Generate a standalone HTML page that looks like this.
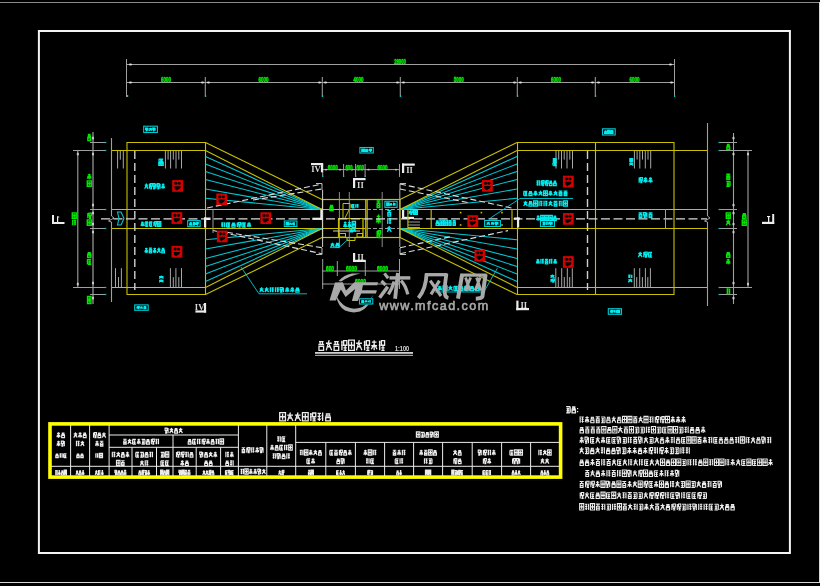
<!DOCTYPE html>
<html><head><meta charset="utf-8"><style>
html,body{margin:0;padding:0;background:#000;overflow:hidden}
svg{display:block}
</style></head><body>
<svg width="820" height="586" viewBox="0 0 820 586" style="will-change:transform">
<rect width="820" height="586" fill="#000"/>
<line x1="0" y1="2.5" x2="820" y2="2.5" stroke="#8a8a8a" stroke-width="1.2"/>
<line x1="819.5" y1="2" x2="819.5" y2="583" stroke="#d8d8d8" stroke-width="1"/>
<line x1="0" y1="582.5" x2="820" y2="582.5" stroke="#d8d8d8" stroke-width="1"/>
<rect x="38.9" y="31" width="751" height="522" stroke="#f4f4f4" stroke-width="2" fill="none"/>
<line x1="127" y1="64.5" x2="674" y2="64.5" stroke="#a0a0a0" stroke-width="1.05"/>
<line x1="127" y1="82.5" x2="674" y2="82.5" stroke="#a0a0a0" stroke-width="1.05"/>
<line x1="126.5" y1="59" x2="126.5" y2="97" stroke="#a0a0a0" stroke-width="1.05"/>
<line x1="674.5" y1="59" x2="674.5" y2="97" stroke="#a0a0a0" stroke-width="1.05"/>
<line x1="205.3" y1="77" x2="205.3" y2="97" stroke="#a0a0a0" stroke-width="1.05"/>
<line x1="322.3" y1="77" x2="322.3" y2="97" stroke="#a0a0a0" stroke-width="1.05"/>
<line x1="400.3" y1="77" x2="400.3" y2="97" stroke="#a0a0a0" stroke-width="1.05"/>
<line x1="517.3" y1="77" x2="517.3" y2="97" stroke="#a0a0a0" stroke-width="1.05"/>
<line x1="595.3" y1="77" x2="595.3" y2="97" stroke="#a0a0a0" stroke-width="1.05"/>
<ellipse cx="130.5" cy="82.5" rx="1.6" ry="1.1" fill="#dddddd"/>
<rect x="127" y="95" width="1.2" height="2" fill="#00c8d2"/>
<ellipse cx="202.5" cy="82.5" rx="1.6" ry="1.1" fill="#dddddd"/>
<ellipse cx="208.5" cy="82.5" rx="1.6" ry="1.1" fill="#dddddd"/>
<rect x="205" y="95" width="1.2" height="2" fill="#00c8d2"/>
<ellipse cx="319.5" cy="82.5" rx="1.6" ry="1.1" fill="#dddddd"/>
<ellipse cx="325.5" cy="82.5" rx="1.6" ry="1.1" fill="#dddddd"/>
<rect x="322" y="95" width="1.2" height="2" fill="#00c8d2"/>
<ellipse cx="397.5" cy="82.5" rx="1.6" ry="1.1" fill="#dddddd"/>
<ellipse cx="403.5" cy="82.5" rx="1.6" ry="1.1" fill="#dddddd"/>
<rect x="400" y="95" width="1.2" height="2" fill="#00c8d2"/>
<ellipse cx="514.5" cy="82.5" rx="1.6" ry="1.1" fill="#dddddd"/>
<ellipse cx="520.5" cy="82.5" rx="1.6" ry="1.1" fill="#dddddd"/>
<rect x="517" y="95" width="1.2" height="2" fill="#00c8d2"/>
<ellipse cx="592.5" cy="82.5" rx="1.6" ry="1.1" fill="#dddddd"/>
<ellipse cx="598.5" cy="82.5" rx="1.6" ry="1.1" fill="#dddddd"/>
<rect x="595" y="95" width="1.2" height="2" fill="#00c8d2"/>
<ellipse cx="671.5" cy="82.5" rx="1.6" ry="1.1" fill="#dddddd"/>
<rect x="674" y="95" width="1.2" height="2" fill="#00c8d2"/>
<ellipse cx="130.5" cy="64.5" rx="1.6" ry="1.1" fill="#dddddd"/>
<ellipse cx="670.5" cy="64.5" rx="1.6" ry="1.1" fill="#dddddd"/>
<text x="394.2" y="63.6" font-family="Liberation Sans" font-weight="bold" font-size="6.7" fill="#00e600" stroke="#00e600" stroke-width="0.55" textLength="11.6" lengthAdjust="spacingAndGlyphs">28000</text>
<text x="161" y="81.8" font-family="Liberation Sans" font-weight="bold" font-size="7.4" fill="#00e600" stroke="#00e600" stroke-width="0.55" textLength="10" lengthAdjust="spacingAndGlyphs">6000</text>
<text x="258.5" y="81.8" font-family="Liberation Sans" font-weight="bold" font-size="7.4" fill="#00e600" stroke="#00e600" stroke-width="0.55" textLength="10" lengthAdjust="spacingAndGlyphs">6000</text>
<text x="353.6" y="81.8" font-family="Liberation Sans" font-weight="bold" font-size="7.4" fill="#00e600" stroke="#00e600" stroke-width="0.55" textLength="10" lengthAdjust="spacingAndGlyphs">4000</text>
<text x="453.7" y="81.8" font-family="Liberation Sans" font-weight="bold" font-size="7.4" fill="#00e600" stroke="#00e600" stroke-width="0.55" textLength="10" lengthAdjust="spacingAndGlyphs">5000</text>
<text x="551" y="81.8" font-family="Liberation Sans" font-weight="bold" font-size="7.4" fill="#00e600" stroke="#00e600" stroke-width="0.55" textLength="10" lengthAdjust="spacingAndGlyphs">6000</text>
<text x="629.5" y="81.8" font-family="Liberation Sans" font-weight="bold" font-size="7.4" fill="#00e600" stroke="#00e600" stroke-width="0.55" textLength="10" lengthAdjust="spacingAndGlyphs">6000</text>
<line x1="127" y1="142.5" x2="205" y2="142.5" stroke="#c8c000" stroke-width="1.1"/>
<line x1="111" y1="150.5" x2="205" y2="150.5" stroke="#c8c000" stroke-width="1.1"/>
<line x1="111" y1="209.5" x2="322" y2="209.5" stroke="#c8c000" stroke-width="1.1"/>
<line x1="111" y1="228.5" x2="322" y2="228.5" stroke="#c8c000" stroke-width="1.1"/>
<line x1="111" y1="287.5" x2="205" y2="287.5" stroke="#c8c000" stroke-width="1.1"/>
<line x1="127" y1="294.5" x2="205" y2="294.5" stroke="#c8c000" stroke-width="1.1"/>
<line x1="127" y1="142" x2="127" y2="295" stroke="#c8c000" stroke-width="1.1"/>
<line x1="205.5" y1="142" x2="205.5" y2="295" stroke="#c8c000" stroke-width="1.1"/>
<line x1="111.5" y1="138" x2="111.5" y2="216" stroke="#a0a0a0" stroke-width="1.1"/>
<line x1="111.5" y1="222" x2="111.5" y2="302" stroke="#a0a0a0" stroke-width="1.1"/>
<polyline points="111.5,216 114,218 108.5,221 111.5,222" stroke="#a0a0a0" stroke-width="1" fill="none" stroke-linejoin="miter"/>
<line x1="134.8" y1="151" x2="134.8" y2="290" stroke="#cfcfcf" stroke-width="1.4" stroke-dasharray="8 4"/>
<line x1="517" y1="142.5" x2="674" y2="142.5" stroke="#c8c000" stroke-width="1.1"/>
<line x1="517" y1="150.5" x2="707.5" y2="150.5" stroke="#c8c000" stroke-width="1.1"/>
<line x1="400" y1="209.5" x2="707.5" y2="209.5" stroke="#c8c000" stroke-width="1.1"/>
<line x1="400" y1="228.5" x2="707.5" y2="228.5" stroke="#c8c000" stroke-width="1.1"/>
<line x1="517" y1="287.5" x2="707.5" y2="287.5" stroke="#c8c000" stroke-width="1.1"/>
<line x1="517" y1="294.5" x2="674" y2="294.5" stroke="#c8c000" stroke-width="1.1"/>
<line x1="517.5" y1="142" x2="517.5" y2="295" stroke="#c8c000" stroke-width="1.1"/>
<line x1="595.5" y1="142" x2="595.5" y2="295" stroke="#c8c000" stroke-width="1.1"/>
<line x1="674" y1="142" x2="674" y2="295" stroke="#c8c000" stroke-width="1.1"/>
<line x1="707.5" y1="123" x2="707.5" y2="216" stroke="#a0a0a0" stroke-width="1.1"/>
<line x1="707.5" y1="222" x2="707.5" y2="306" stroke="#a0a0a0" stroke-width="1.1"/>
<polyline points="707.5,216 710,218 704.5,221 707.5,222" stroke="#a0a0a0" stroke-width="1" fill="none" stroke-linejoin="miter"/>
<line x1="587.5" y1="151" x2="587.5" y2="290" stroke="#cfcfcf" stroke-width="1.4" stroke-dasharray="8 4"/>
<line x1="117.6" y1="151" x2="117.6" y2="168.5" stroke="#a8a8a8" stroke-width="1"/>
<line x1="120.3" y1="151" x2="120.3" y2="159.6" stroke="#a8a8a8" stroke-width="1"/>
<line x1="123.3" y1="151" x2="123.3" y2="168.5" stroke="#a8a8a8" stroke-width="1"/>
<line x1="165.4" y1="151" x2="165.4" y2="168.5" stroke="#a8a8a8" stroke-width="1"/>
<line x1="168.1" y1="151" x2="168.1" y2="159.6" stroke="#a8a8a8" stroke-width="1"/>
<line x1="170.6" y1="151" x2="170.6" y2="168.5" stroke="#a8a8a8" stroke-width="1"/>
<line x1="173.3" y1="151" x2="173.3" y2="159.6" stroke="#a8a8a8" stroke-width="1"/>
<line x1="176" y1="151" x2="176" y2="168.5" stroke="#a8a8a8" stroke-width="1"/>
<line x1="178.8" y1="151" x2="178.8" y2="159.6" stroke="#a8a8a8" stroke-width="1"/>
<line x1="181.5" y1="151" x2="181.5" y2="168.5" stroke="#a8a8a8" stroke-width="1"/>
<line x1="556" y1="151" x2="556" y2="168.5" stroke="#a8a8a8" stroke-width="1"/>
<line x1="558.7" y1="151" x2="558.7" y2="159.6" stroke="#a8a8a8" stroke-width="1"/>
<line x1="561.5" y1="151" x2="561.5" y2="168.5" stroke="#a8a8a8" stroke-width="1"/>
<line x1="564.2" y1="151" x2="564.2" y2="159.6" stroke="#a8a8a8" stroke-width="1"/>
<line x1="567" y1="151" x2="567" y2="168.5" stroke="#a8a8a8" stroke-width="1"/>
<line x1="569.8" y1="151" x2="569.8" y2="159.6" stroke="#a8a8a8" stroke-width="1"/>
<line x1="572.5" y1="151" x2="572.5" y2="168.5" stroke="#a8a8a8" stroke-width="1"/>
<line x1="634.4" y1="151" x2="634.4" y2="168.5" stroke="#a8a8a8" stroke-width="1"/>
<line x1="637.1" y1="151" x2="637.1" y2="159.6" stroke="#a8a8a8" stroke-width="1"/>
<line x1="639.8" y1="151" x2="639.8" y2="168.5" stroke="#a8a8a8" stroke-width="1"/>
<line x1="642.5" y1="151" x2="642.5" y2="159.6" stroke="#a8a8a8" stroke-width="1"/>
<line x1="645.3" y1="151" x2="645.3" y2="168.5" stroke="#a8a8a8" stroke-width="1"/>
<line x1="648" y1="151" x2="648" y2="159.6" stroke="#a8a8a8" stroke-width="1"/>
<line x1="650.7" y1="151" x2="650.7" y2="168.5" stroke="#a8a8a8" stroke-width="1"/>
<line x1="115.5" y1="287" x2="115.5" y2="268.2" stroke="#a8a8a8" stroke-width="1"/>
<line x1="118.5" y1="287" x2="118.5" y2="277.1" stroke="#a8a8a8" stroke-width="1"/>
<line x1="121.4" y1="287" x2="121.4" y2="268.2" stroke="#a8a8a8" stroke-width="1"/>
<line x1="170.4" y1="287" x2="170.4" y2="268.2" stroke="#a8a8a8" stroke-width="1"/>
<line x1="173.3" y1="287" x2="173.3" y2="277.1" stroke="#a8a8a8" stroke-width="1"/>
<line x1="175.9" y1="287" x2="175.9" y2="268.2" stroke="#a8a8a8" stroke-width="1"/>
<line x1="178.8" y1="287" x2="178.8" y2="277.1" stroke="#a8a8a8" stroke-width="1"/>
<line x1="181.5" y1="287" x2="181.5" y2="268.2" stroke="#a8a8a8" stroke-width="1"/>
<line x1="555.8" y1="287" x2="555.8" y2="268.2" stroke="#a8a8a8" stroke-width="1"/>
<line x1="558.3" y1="287" x2="558.3" y2="277.1" stroke="#a8a8a8" stroke-width="1"/>
<line x1="561.7" y1="287" x2="561.7" y2="268.2" stroke="#a8a8a8" stroke-width="1"/>
<line x1="564.3" y1="287" x2="564.3" y2="277.1" stroke="#a8a8a8" stroke-width="1"/>
<line x1="567.3" y1="287" x2="567.3" y2="268.2" stroke="#a8a8a8" stroke-width="1"/>
<line x1="569.7" y1="287" x2="569.7" y2="277.1" stroke="#a8a8a8" stroke-width="1"/>
<line x1="572.3" y1="287" x2="572.3" y2="268.2" stroke="#a8a8a8" stroke-width="1"/>
<line x1="634.3" y1="287" x2="634.3" y2="268.2" stroke="#a8a8a8" stroke-width="1"/>
<line x1="636.7" y1="287" x2="636.7" y2="277.1" stroke="#a8a8a8" stroke-width="1"/>
<line x1="639.7" y1="287" x2="639.7" y2="268.2" stroke="#a8a8a8" stroke-width="1"/>
<line x1="642.4" y1="287" x2="642.4" y2="277.1" stroke="#a8a8a8" stroke-width="1"/>
<line x1="645.4" y1="287" x2="645.4" y2="268.2" stroke="#a8a8a8" stroke-width="1"/>
<line x1="647.8" y1="287" x2="647.8" y2="277.1" stroke="#a8a8a8" stroke-width="1"/>
<line x1="650.4" y1="287" x2="650.4" y2="268.2" stroke="#a8a8a8" stroke-width="1"/>
<line x1="205.5" y1="156.5" x2="322" y2="209.5" stroke="#00c8d2" stroke-width="1.1"/>
<line x1="205.5" y1="281.5" x2="322" y2="228.5" stroke="#00c8d2" stroke-width="1.1"/>
<line x1="517" y1="156.5" x2="400" y2="209.5" stroke="#00c8d2" stroke-width="1.1"/>
<line x1="517" y1="281.5" x2="400" y2="228.5" stroke="#00c8d2" stroke-width="1.1"/>
<line x1="205.5" y1="164" x2="322" y2="209.5" stroke="#00c8d2" stroke-width="1.1"/>
<line x1="205.5" y1="274" x2="322" y2="228.5" stroke="#00c8d2" stroke-width="1.1"/>
<line x1="517" y1="164" x2="400" y2="209.5" stroke="#00c8d2" stroke-width="1.1"/>
<line x1="517" y1="274" x2="400" y2="228.5" stroke="#00c8d2" stroke-width="1.1"/>
<line x1="205.5" y1="171.5" x2="322" y2="209.5" stroke="#00c8d2" stroke-width="1.1"/>
<line x1="205.5" y1="266.5" x2="322" y2="228.5" stroke="#00c8d2" stroke-width="1.1"/>
<line x1="517" y1="171.5" x2="400" y2="209.5" stroke="#00c8d2" stroke-width="1.1"/>
<line x1="517" y1="266.5" x2="400" y2="228.5" stroke="#00c8d2" stroke-width="1.1"/>
<line x1="205.5" y1="179.5" x2="322" y2="209.5" stroke="#00c8d2" stroke-width="1.1"/>
<line x1="205.5" y1="258.5" x2="322" y2="228.5" stroke="#00c8d2" stroke-width="1.1"/>
<line x1="517" y1="179.5" x2="400" y2="209.5" stroke="#00c8d2" stroke-width="1.1"/>
<line x1="517" y1="258.5" x2="400" y2="228.5" stroke="#00c8d2" stroke-width="1.1"/>
<line x1="205.5" y1="189" x2="322" y2="209.5" stroke="#00c8d2" stroke-width="1.1"/>
<line x1="205.5" y1="249" x2="322" y2="228.5" stroke="#00c8d2" stroke-width="1.1"/>
<line x1="517" y1="189" x2="400" y2="209.5" stroke="#00c8d2" stroke-width="1.1"/>
<line x1="517" y1="249" x2="400" y2="228.5" stroke="#00c8d2" stroke-width="1.1"/>
<line x1="205.5" y1="198.3" x2="322" y2="209.5" stroke="#00c8d2" stroke-width="1.1"/>
<line x1="205.5" y1="239.7" x2="322" y2="228.5" stroke="#00c8d2" stroke-width="1.1"/>
<line x1="517" y1="198.3" x2="400" y2="209.5" stroke="#00c8d2" stroke-width="1.1"/>
<line x1="517" y1="239.7" x2="400" y2="228.5" stroke="#00c8d2" stroke-width="1.1"/>
<line x1="205.5" y1="142.5" x2="322" y2="199.5" stroke="#c8c000" stroke-width="1.1"/>
<line x1="205.5" y1="150.5" x2="322" y2="209.5" stroke="#c8c000" stroke-width="1.1"/>
<line x1="205.5" y1="294.5" x2="322" y2="237.5" stroke="#c8c000" stroke-width="1.1"/>
<line x1="205.5" y1="287.5" x2="322" y2="228.5" stroke="#c8c000" stroke-width="1.1"/>
<line x1="517" y1="142.5" x2="400" y2="199.5" stroke="#c8c000" stroke-width="1.1"/>
<line x1="517" y1="150.5" x2="400" y2="209.5" stroke="#c8c000" stroke-width="1.1"/>
<line x1="517" y1="294.5" x2="400" y2="237.5" stroke="#c8c000" stroke-width="1.1"/>
<line x1="517" y1="287.5" x2="400" y2="228.5" stroke="#c8c000" stroke-width="1.1"/>
<line x1="207" y1="208" x2="322" y2="184" stroke="#dcdcdc" stroke-width="1.1" stroke-dasharray="6 3"/>
<line x1="253" y1="200" x2="322" y2="189" stroke="#dcdcdc" stroke-width="1.1" stroke-dasharray="6 3"/>
<line x1="213" y1="230.5" x2="322" y2="253.7" stroke="#dcdcdc" stroke-width="1.1" stroke-dasharray="6 3"/>
<line x1="227" y1="232.3" x2="322" y2="247.7" stroke="#dcdcdc" stroke-width="1.1" stroke-dasharray="6 3"/>
<line x1="400" y1="184" x2="514" y2="208.5" stroke="#dcdcdc" stroke-width="1.1" stroke-dasharray="6 3"/>
<line x1="400" y1="189" x2="470" y2="203" stroke="#dcdcdc" stroke-width="1.1" stroke-dasharray="6 3"/>
<line x1="400" y1="253.7" x2="508" y2="230.6" stroke="#dcdcdc" stroke-width="1.1" stroke-dasharray="6 3"/>
<line x1="400" y1="247.7" x2="451" y2="236.6" stroke="#dcdcdc" stroke-width="1.1" stroke-dasharray="6 3"/>
<polyline points="316,183.5 322,183.5 322,190" stroke="#bbbbbb" stroke-width="1" fill="none" stroke-linejoin="miter"/>
<polyline points="316,254.5 322,254.5 322,248" stroke="#bbbbbb" stroke-width="1" fill="none" stroke-linejoin="miter"/>
<polyline points="406,183.5 400,183.5 400,190" stroke="#bbbbbb" stroke-width="1" fill="none" stroke-linejoin="miter"/>
<polyline points="406,254.5 400,254.5 400,248" stroke="#bbbbbb" stroke-width="1" fill="none" stroke-linejoin="miter"/>
<rect x="322.5" y="199.5" width="77.5" height="38" stroke="#c8c000" stroke-width="1.2" fill="none"/>
<line x1="365.8" y1="199.5" x2="365.8" y2="237.5" stroke="#c8c000" stroke-width="1.3"/>
<line x1="367.2" y1="199.5" x2="367.2" y2="237.5" stroke="#c8c000" stroke-width="1.1"/>
<line x1="322" y1="209.5" x2="366" y2="209.5" stroke="#c8c000" stroke-width="1.1"/>
<line x1="322" y1="228.5" x2="366" y2="228.5" stroke="#c8c000" stroke-width="1.1"/>
<line x1="367" y1="209.5" x2="400" y2="209.5" stroke="#9a9a9a" stroke-width="1" stroke-dasharray="4 2"/>
<line x1="367" y1="228.5" x2="400" y2="228.5" stroke="#9a9a9a" stroke-width="1" stroke-dasharray="4 2"/>
<polyline points="338.5,237 338.5,218.5 363,218.5 363,237" stroke="#c8c000" stroke-width="1.2" fill="none" stroke-linejoin="miter"/>
<rect x="339.5" y="233.5" width="6" height="3.5" stroke="#c8c000" stroke-width="1" fill="none"/>
<rect x="357" y="233.5" width="5.5" height="3.5" stroke="#c8c000" stroke-width="1" fill="none"/>
<polyline points="347,237.5 347,240.5 355,240.5 355,237.5" stroke="#c8c000" stroke-width="1" fill="none" stroke-linejoin="miter"/>
<polyline points="343,218 343,203.5 350,203.5 350,208.5" stroke="#c8c000" stroke-width="1" fill="none" stroke-linejoin="miter"/>
<line x1="349" y1="210" x2="345" y2="218" stroke="#c8c000" stroke-width="1"/>
<line x1="333" y1="231" x2="360" y2="231" stroke="#cccccc" stroke-width="1"/>
<line x1="339.4" y1="192" x2="339.4" y2="247" stroke="#9a9a9a" stroke-width="0.9"/>
<line x1="349.3" y1="192" x2="349.3" y2="247" stroke="#9a9a9a" stroke-width="0.9"/>
<line x1="382.2" y1="192" x2="382.2" y2="247" stroke="#9a9a9a" stroke-width="0.9"/>
<line x1="322.6" y1="190" x2="322.6" y2="247" stroke="#d0d0d0" stroke-width="1"/>
<line x1="399.8" y1="190" x2="399.8" y2="247" stroke="#b0b0b0" stroke-width="1"/>
<path d="M329.98 205.34H333.02M329.6 207.01H333.4M330.74 205.34V207.01M332.26 205.34V207.01M329.98 208.12H333.02V210.58H329.98Z" stroke="#00e600" stroke-width="1.43" fill="none"/>
<path d="M376.6 201.04H380.4M378.5 200.48V203.3M377.17 203.3H379.83V207.52H377.17ZM377.17 205.41H379.83" stroke="#00e600" stroke-width="1.43" fill="none"/>
<path d="M376.68 216.36H380.32M378.5 214.6V223.4M378.27 218.56L376.22 222.52M378.73 218.56L380.78 222.52M376.22 219.44H380.78" stroke="#00e600" stroke-width="1.43" fill="none"/>
<path d="M376.6 231.89H377.74M376.6 234H377.74M377.17 230.83V237.52M378.31 230.83H380.4V234H378.31ZM378.2 235.76H380.4M378.2 237.52H380.4M379.34 234V237.52" stroke="#00e600" stroke-width="1.43" fill="none"/>
<path d="M351.48 204.59H354.52M351.63 204.59V207.76M352.39 205.65H354.22M352.39 206.7H354.22M353.3 205.12V207.76M351.78 207.76H354.52M355.84 204.24V207.76M355.48 205.47H356.39M355.48 206.7H356.39M356.7 204.59H358.52M357.61 204.59V207.76M356.85 205.82H358.52M356.85 207.06H358.52" stroke="#00ecf0" stroke-width="1.3" fill="none"/>
<path d="M346.48 222.65H343.85M345.17 221.42V227.58M345.33 224.19L346.81 226.96M345 224.19L343.52 226.96M346.81 224.81H343.52M350.82 222.65H348.18M349.5 221.42V227.58M349.66 224.19L351.15 226.96M349.34 224.19L347.85 226.96M351.15 224.81H347.85M352.19 221.42H355.48V227.58H352.19ZM352.19 224.5H355.48M353.83 222.34V226.66" stroke="#00ecf0" stroke-width="1.3" fill="none"/>
<path d="M350.59 228.77H352.41M350.36 229.72H352.64M351.04 228.77V229.72M351.96 228.77V229.72M350.59 230.35H352.41V231.76H350.59ZM353.36 229.3H355.64M354.61 228.24L353.47 231.76M354.5 229.47L355.64 231.76M353.82 230.53H355.18" stroke="#00ecf0" stroke-width="1.3" fill="none"/>
<path d="M387.27 210.45H391.23M389.25 209.96V212.39M387.86 212.39H390.64V216.04H387.86ZM387.86 214.22H390.64M387.75 217.96V224.04M387.27 220.09H388.46M387.27 222.22H388.46M388.85 218.57H391.23M390.04 218.57V224.04M389.05 220.7H391.23M389.05 222.82H391.23M387.27 227.78H391.23M389.45 225.96L387.47 232.04M389.25 228.09L391.23 232.04M388.06 229.91H390.44" stroke="#00ecf0" stroke-width="1.3" fill="none"/>
<rect x="384.9" y="201.3" width="12.2" height="6.1" stroke="#00c8d2" stroke-width="1.1" fill="none"/>
<path d="M389.1 202.99H386.77V205.71H389.1ZM389.1 204.35H386.77M387.93 203.4V205.3M390.07 203.53H391.93M391 202.99V205.71M390.88 204.21L389.83 205.44M391.12 204.21L392.17 205.44M389.83 204.49H392.17M394.95 202.99V205.71M395.23 203.94H394.53M395.23 204.9H394.53M394.3 203.26H392.9M393.6 203.26V205.71M394.18 204.21H392.9M394.18 205.17H392.9" stroke="#00ecf0" stroke-width="1.3" fill="none"/>
<polyline points="330,247.6 339,247.6 348.4,239" stroke="#00c8d2" stroke-width="0.9" fill="none" stroke-linejoin="miter"/>
<path d="M330.6 244.12H334.4M332.69 242.8L330.79 247.2M332.5 244.34L334.4 247.2M331.36 245.66H333.64M335.98 243.46H339.02M335.6 244.65H339.4M336.74 243.46V244.65M338.26 243.46V244.65M335.98 245.44H339.02V247.2H335.98Z" stroke="#00ecf0" stroke-width="1.3" fill="none"/>
<line x1="101" y1="218.8" x2="707" y2="218.8" stroke="#d8d8d8" stroke-width="1.2" stroke-dasharray="9 3.5"/>
<line x1="322" y1="169.6" x2="400" y2="169.6" stroke="#a0a0a0" stroke-width="1"/>
<line x1="322.7" y1="164" x2="322.7" y2="177" stroke="#a0a0a0" stroke-width="1"/>
<rect x="322.2" y="175.5" width="1.1" height="1.5" fill="#00c8d2"/>
<line x1="343.6" y1="164" x2="343.6" y2="177" stroke="#a0a0a0" stroke-width="1"/>
<rect x="343.1" y="175.5" width="1.1" height="1.5" fill="#00c8d2"/>
<line x1="355.6" y1="164" x2="355.6" y2="177" stroke="#a0a0a0" stroke-width="1"/>
<rect x="355.1" y="175.5" width="1.1" height="1.5" fill="#00c8d2"/>
<line x1="365.1" y1="164" x2="365.1" y2="177" stroke="#a0a0a0" stroke-width="1"/>
<rect x="364.6" y="175.5" width="1.1" height="1.5" fill="#00c8d2"/>
<line x1="399.5" y1="164" x2="399.5" y2="177" stroke="#a0a0a0" stroke-width="1"/>
<rect x="399" y="175.5" width="1.1" height="1.5" fill="#00c8d2"/>
<ellipse cx="326" cy="169.6" rx="1.3" ry="0.9" fill="#bbbbbb"/>
<ellipse cx="340" cy="169.6" rx="1.3" ry="0.9" fill="#bbbbbb"/>
<ellipse cx="347" cy="169.6" rx="1.3" ry="0.9" fill="#bbbbbb"/>
<ellipse cx="352" cy="169.6" rx="1.3" ry="0.9" fill="#bbbbbb"/>
<ellipse cx="358.5" cy="169.6" rx="1.3" ry="0.9" fill="#bbbbbb"/>
<ellipse cx="362" cy="169.6" rx="1.3" ry="0.9" fill="#bbbbbb"/>
<ellipse cx="368.5" cy="169.6" rx="1.3" ry="0.9" fill="#bbbbbb"/>
<ellipse cx="396" cy="169.6" rx="1.3" ry="0.9" fill="#bbbbbb"/>
<text x="327.8" y="169.5" font-family="Liberation Sans" font-weight="bold" font-size="6.98" fill="#00e600" stroke="#00e600" stroke-width="0.55" textLength="10" lengthAdjust="spacingAndGlyphs">6000</text>
<text x="345.5" y="169.5" font-family="Liberation Sans" font-weight="bold" font-size="6.98" fill="#00e600" stroke="#00e600" stroke-width="0.55" textLength="7" lengthAdjust="spacingAndGlyphs">600</text>
<text x="356.5" y="169.5" font-family="Liberation Sans" font-weight="bold" font-size="6.98" fill="#00e600" stroke="#00e600" stroke-width="0.55" textLength="7.5" lengthAdjust="spacingAndGlyphs">600</text>
<text x="377.5" y="169.5" font-family="Liberation Sans" font-weight="bold" font-size="6.98" fill="#00e600" stroke="#00e600" stroke-width="0.55" textLength="10" lengthAdjust="spacingAndGlyphs">6000</text>
<line x1="322" y1="271" x2="400" y2="271" stroke="#a0a0a0" stroke-width="1"/>
<line x1="337.3" y1="261" x2="337.3" y2="276" stroke="#a0a0a0" stroke-width="1"/>
<line x1="365.3" y1="261" x2="365.3" y2="276" stroke="#a0a0a0" stroke-width="1"/>
<line x1="322.7" y1="259" x2="322.7" y2="289" stroke="#a0a0a0" stroke-width="1"/>
<line x1="399.5" y1="259" x2="399.5" y2="289" stroke="#a0a0a0" stroke-width="1"/>
<text x="326" y="271" font-family="Liberation Sans" font-weight="bold" font-size="6.98" fill="#00e600" stroke="#00e600" stroke-width="0.55" textLength="8" lengthAdjust="spacingAndGlyphs">600</text>
<text x="346" y="271" font-family="Liberation Sans" font-weight="bold" font-size="6.98" fill="#00e600" stroke="#00e600" stroke-width="0.55" textLength="11" lengthAdjust="spacingAndGlyphs">6000</text>
<text x="377" y="271" font-family="Liberation Sans" font-weight="bold" font-size="6.98" fill="#00e600" stroke="#00e600" stroke-width="0.55" textLength="11" lengthAdjust="spacingAndGlyphs">6000</text>
<line x1="322" y1="284" x2="400" y2="284" stroke="#a0a0a0" stroke-width="1"/>
<text x="355" y="284" font-family="Liberation Sans" font-weight="bold" font-size="6.98" fill="#00e600" stroke="#00e600" stroke-width="0.55" textLength="11" lengthAdjust="spacingAndGlyphs">6000</text>
<rect x="311" y="163" width="12.1" height="2.2" fill="#ececec"/>
<rect x="320.9" y="163" width="2.2" height="9.3" fill="#ececec"/>
<text x="315.95" y="172.3" font-family="Liberation Serif" font-weight="bold" font-size="8.6" text-anchor="middle" fill="#d8d8d8">IV</text>
<rect x="402" y="163.5" width="12.8" height="2.2" fill="#ececec"/>
<rect x="402" y="163.5" width="2.2" height="9.5" fill="#ececec"/>
<text x="409.5" y="173" font-family="Liberation Serif" font-weight="bold" font-size="8.6" text-anchor="middle" fill="#d8d8d8">II</text>
<rect x="353" y="178" width="12.6" height="2.2" fill="#ececec"/>
<rect x="353" y="178" width="2.2" height="10" fill="#ececec"/>
<text x="360.4" y="188" font-family="Liberation Serif" font-weight="bold" font-size="8.6" text-anchor="middle" fill="#d8d8d8">II</text>
<rect x="353" y="259.8" width="12.8" height="2.2" fill="#ececec"/>
<rect x="353" y="253" width="2.2" height="9" fill="#ececec"/>
<text x="360.5" y="259.5" font-family="Liberation Serif" font-weight="bold" font-size="8.6" text-anchor="middle" fill="#d8d8d8">II</text>
<rect x="195.4" y="310.4" width="10.7" height="2.2" fill="#ececec"/>
<rect x="203.9" y="303" width="2.2" height="9.6" fill="#ececec"/>
<text x="199.65" y="310.1" font-family="Liberation Serif" font-weight="bold" font-size="8.6" text-anchor="middle" fill="#d8d8d8">IV</text>
<rect x="516.3" y="308" width="12.7" height="2.2" fill="#ececec"/>
<rect x="516.3" y="300.6" width="2.2" height="9.6" fill="#ececec"/>
<text x="523.75" y="307.7" font-family="Liberation Serif" font-weight="bold" font-size="8.6" text-anchor="middle" fill="#d8d8d8">II</text>
<rect x="52" y="215" width="2" height="9" fill="#ececec"/>
<rect x="52" y="222" width="12.5" height="2" fill="#ececec"/>
<rect x="57" y="216.5" width="1.2" height="6" fill="#ececec"/>
<rect x="57" y="216.5" width="2.2" height="1" fill="#ececec"/>
<rect x="772.2" y="214" width="2" height="10" fill="#ececec"/>
<rect x="762" y="221.8" width="12.2" height="2.2" fill="#ececec"/>
<rect x="768" y="216.5" width="1.3" height="6" fill="#ececec"/>
<rect x="767" y="216" width="3.2" height="1.1" fill="#ececec"/>
<rect x="204" y="217.5" width="6.5" height="2.5" fill="#ececec"/>
<rect x="204" y="217.5" width="2.2" height="10" fill="#ececec"/>
<rect x="402" y="210" width="2.2" height="9" fill="#ececec"/>
<rect x="402" y="216.8" width="12" height="2.2" fill="#ececec"/>
<rect x="514" y="217.5" width="6" height="2.2" fill="#ececec"/>
<rect x="517" y="217.5" width="2.2" height="10" fill="#ececec"/>
<rect x="312.3" y="217.7" width="10" height="2.2" fill="#ececec"/>
<rect x="320.3" y="209.5" width="2" height="10.4" fill="#ececec"/>
<line x1="77.8" y1="150" x2="77.8" y2="288" stroke="#a0a0a0" stroke-width="1.1"/>
<line x1="93" y1="132" x2="93" y2="304" stroke="#a0a0a0" stroke-width="1.2"/>
<line x1="90" y1="142.5" x2="106" y2="142.5" stroke="#a0a0a0" stroke-width="1"/>
<line x1="73" y1="150.5" x2="106" y2="150.5" stroke="#a0a0a0" stroke-width="1"/>
<line x1="90" y1="209.5" x2="106" y2="209.5" stroke="#a0a0a0" stroke-width="1"/>
<line x1="90" y1="228.5" x2="106" y2="228.5" stroke="#a0a0a0" stroke-width="1"/>
<line x1="73" y1="287.5" x2="106" y2="287.5" stroke="#a0a0a0" stroke-width="1"/>
<line x1="90" y1="294.5" x2="106" y2="294.5" stroke="#a0a0a0" stroke-width="1"/>
<ellipse cx="93" cy="138" rx="1.1" ry="1.5" fill="#cccccc"/>
<ellipse cx="93" cy="154" rx="1.1" ry="1.5" fill="#cccccc"/>
<ellipse cx="93" cy="205" rx="1.1" ry="1.5" fill="#cccccc"/>
<ellipse cx="93" cy="213" rx="1.1" ry="1.5" fill="#cccccc"/>
<ellipse cx="93" cy="224" rx="1.1" ry="1.5" fill="#cccccc"/>
<ellipse cx="93" cy="232" rx="1.1" ry="1.5" fill="#cccccc"/>
<ellipse cx="93" cy="283" rx="1.1" ry="1.5" fill="#cccccc"/>
<ellipse cx="93" cy="298" rx="1.1" ry="1.5" fill="#cccccc"/>
<ellipse cx="77.8" cy="154" rx="1.1" ry="1.5" fill="#cccccc"/>
<ellipse cx="77.8" cy="284" rx="1.1" ry="1.5" fill="#cccccc"/>
<rect x="104.5" y="141.9" width="1.8" height="1.2" fill="#00c8d2"/>
<rect x="104.5" y="149.9" width="1.8" height="1.2" fill="#00c8d2"/>
<rect x="104.5" y="208.9" width="1.8" height="1.2" fill="#00c8d2"/>
<rect x="104.5" y="227.9" width="1.8" height="1.2" fill="#00c8d2"/>
<rect x="104.5" y="286.9" width="1.8" height="1.2" fill="#00c8d2"/>
<rect x="104.5" y="293.9" width="1.8" height="1.2" fill="#00c8d2"/>
<path d="M87.88 134.54H90.62M87.54 136.44H90.96M88.57 134.54V136.44M89.93 134.54V136.44M87.88 137.7H90.62V140.52H87.88Z" stroke="#00e600" stroke-width="1.43" fill="none"/>
<path d="M87.67 174.9H90.83M89.25 173.84V179.16M89.05 176.23L87.27 178.63M89.45 176.23L91.23 178.63M87.27 176.77H91.23M87.27 180.84H91.23V186.16H87.27ZM87.27 183.5H91.23M89.25 181.64V185.36" stroke="#00e600" stroke-width="1.43" fill="none"/>
<path d="M87.27 213.9H88.46M87.27 215.5H88.46M87.86 213.11V218.16M89.05 213.11H91.23V215.5H89.05ZM88.93 216.83H91.23M88.93 218.16H91.23M90.12 215.5V218.16M91.23 219.84H87.27V225.16H91.23ZM91.23 222.5H87.27M89.25 220.64V224.36" stroke="#00e600" stroke-width="1.43" fill="none"/>
<path d="M87.67 252.64H90.83M87.27 254.07H91.23M88.46 252.64V254.07M90.04 252.64V254.07M87.67 255.03H90.83V257.16H87.67ZM87.27 259.37H91.23M87.47 259.37V264.16M88.46 260.97H90.83M88.46 262.56H90.83M89.65 260.17V264.16M87.67 264.16H91.23" stroke="#00e600" stroke-width="1.43" fill="none"/>
<path d="M90.96 296.48H87.54V303.52H90.96ZM90.96 300H87.54M89.25 297.54V302.46" stroke="#00e600" stroke-width="1.43" fill="none"/>
<path d="M76.23 212.84H72.27V218.16H76.23ZM76.23 215.5H72.27M74.25 213.64V217.36M72.75 219.84V225.16M72.27 221.7H73.46M72.27 223.56H73.46M73.85 220.37H76.23M75.04 220.37V225.16M74.05 222.23H76.23M74.05 224.1H76.23" stroke="#00e600" stroke-width="1.43" fill="none"/>
<line x1="733.5" y1="133" x2="733.5" y2="304" stroke="#a0a0a0" stroke-width="1.1"/>
<line x1="748" y1="150" x2="748" y2="288" stroke="#a0a0a0" stroke-width="1.1"/>
<line x1="719" y1="142.5" x2="737" y2="142.5" stroke="#a0a0a0" stroke-width="1"/>
<line x1="719" y1="150.5" x2="752" y2="150.5" stroke="#a0a0a0" stroke-width="1"/>
<line x1="719" y1="209.5" x2="737" y2="209.5" stroke="#a0a0a0" stroke-width="1"/>
<line x1="719" y1="228.5" x2="737" y2="228.5" stroke="#a0a0a0" stroke-width="1"/>
<line x1="719" y1="287.5" x2="752" y2="287.5" stroke="#a0a0a0" stroke-width="1"/>
<line x1="719" y1="294.5" x2="737" y2="294.5" stroke="#a0a0a0" stroke-width="1"/>
<ellipse cx="733.5" cy="138" rx="1.1" ry="1.5" fill="#cccccc"/>
<ellipse cx="733.5" cy="154" rx="1.1" ry="1.5" fill="#cccccc"/>
<ellipse cx="733.5" cy="205" rx="1.1" ry="1.5" fill="#cccccc"/>
<ellipse cx="733.5" cy="213" rx="1.1" ry="1.5" fill="#cccccc"/>
<ellipse cx="733.5" cy="224" rx="1.1" ry="1.5" fill="#cccccc"/>
<ellipse cx="733.5" cy="232" rx="1.1" ry="1.5" fill="#cccccc"/>
<ellipse cx="733.5" cy="283" rx="1.1" ry="1.5" fill="#cccccc"/>
<ellipse cx="733.5" cy="298" rx="1.1" ry="1.5" fill="#cccccc"/>
<rect x="718.5" y="141.9" width="1.8" height="1.2" fill="#00c8d2"/>
<rect x="718.5" y="149.9" width="1.8" height="1.2" fill="#00c8d2"/>
<rect x="718.5" y="208.9" width="1.8" height="1.2" fill="#00c8d2"/>
<rect x="718.5" y="227.9" width="1.8" height="1.2" fill="#00c8d2"/>
<rect x="718.5" y="286.9" width="1.8" height="1.2" fill="#00c8d2"/>
<rect x="718.5" y="293.9" width="1.8" height="1.2" fill="#00c8d2"/>
<ellipse cx="748" cy="154" rx="1.1" ry="1.5" fill="#cccccc"/>
<ellipse cx="748" cy="284" rx="1.1" ry="1.5" fill="#cccccc"/>
<path d="M729.62 144.34H726.88M729.96 146.01H726.54M728.93 144.34V146.01M727.57 144.34V146.01M729.62 147.12H726.88V149.58H729.62Z" stroke="#00e600" stroke-width="1.43" fill="none"/>
<path d="M730.23 174.27H726.27M728.25 173.84V175.97M729.64 175.97H726.86V179.16H729.64ZM729.64 177.56H726.86M730.23 181.37H726.27M730.03 181.37V186.16M729.04 182.97H726.67M729.04 184.56H726.67M727.85 182.17V186.16M729.83 186.16H726.27" stroke="#00e600" stroke-width="1.43" fill="none"/>
<path d="M730.23 212.84H726.27V218.16H730.23ZM730.23 215.5H726.27M728.25 213.64V217.36M730.23 221.44H726.27M728.05 219.84L730.03 225.16M728.25 221.7L726.27 225.16M729.44 223.3H727.06" stroke="#00e600" stroke-width="1.43" fill="none"/>
<path d="M729.83 252.64H726.67M730.23 254.07H726.27M729.04 252.64V254.07M727.46 252.64V254.07M729.83 255.03H726.67V257.16H729.83ZM729.83 259.9H726.67M728.25 258.84V264.16M728.45 261.23L730.23 263.63M728.05 261.23L726.27 263.63M730.23 261.77H726.27" stroke="#00e600" stroke-width="1.43" fill="none"/>
<path d="M729.55 288.42V294.58M729.96 290.58H728.93M729.96 292.73H728.93M728.59 289.04H726.54M727.57 289.04V294.58M728.42 291.19H726.54M728.42 293.35H726.54" stroke="#00e600" stroke-width="1.43" fill="none"/>
<path d="M742.67 213.64H745.83M742.27 215.07H746.23M743.46 213.64V215.07M745.04 213.64V215.07M742.67 216.03H745.83V218.16H742.67ZM742.27 219.84H746.23V225.16H742.27ZM742.27 222.5H746.23M744.25 220.64V224.36" stroke="#00e600" stroke-width="1.43" fill="none"/>
<rect x="143.7" y="126.2" width="13.7" height="6.3" stroke="#00c8d2" stroke-width="1.1" fill="none"/>
<path d="M148.34 128.48H147.53M148.34 129.35H147.53M147.93 128.04V130.8M147.12 128.04H145.63V129.35H147.12ZM147.2 130.08H145.63M147.2 130.8H145.63M146.39 129.35V130.8M151.91 128.77H149.19M150.41 127.9L151.77 130.8M150.55 128.91L149.19 130.8M151.36 129.79H149.74M155.47 128.48H154.66M155.47 129.35H154.66M155.07 128.04V130.8M154.25 128.04H152.76V129.35H154.25ZM154.33 130.08H152.76M154.33 130.8H152.76M153.52 129.35V130.8" stroke="#00ecf0" stroke-width="1.3" fill="none"/>
<rect x="359.9" y="147.5" width="13.4" height="5.5" stroke="#00c8d2" stroke-width="1.1" fill="none"/>
<path d="M361.82 149.15H364.45V151.35H361.82ZM361.82 150.25H364.45M363.13 149.48V151.02M365.28 149.33H367.92M366.6 149.15V150.03M365.68 150.03H367.52V151.35H365.68ZM365.68 150.69H367.52M368.75 149.59H369.54M368.75 150.25H369.54M369.14 149.26V151.35M369.93 149.26H371.38V150.25H369.93ZM369.86 150.8H371.38M369.86 151.35H371.38M370.65 150.25V151.35" stroke="#00ecf0" stroke-width="1.3" fill="none"/>
<rect x="602.5" y="128.8" width="12.7" height="6.2" stroke="#00c8d2" stroke-width="1.1" fill="none"/>
<path d="M606.6 130.91H604.63M606.85 131.67H604.39M606.11 130.91V131.67M605.13 130.91V131.67M606.6 132.18H604.63V133.31H606.6ZM607.62 130.49H610.08V133.31H607.62ZM607.62 131.9H610.08M608.85 130.91V132.89M613.31 130.72H610.85M612.08 130.49V131.62M612.94 131.62H611.22V133.31H612.94ZM612.94 132.46H611.22" stroke="#00ecf0" stroke-width="1.3" fill="none"/>
<rect x="134.7" y="304.9" width="13.5" height="5.4" stroke="#00c8d2" stroke-width="1.1" fill="none"/>
<path d="M136.62 306.97H137.42M136.62 307.6H137.42M137.02 306.65V308.66M137.82 306.65H139.28V307.6H137.82ZM137.74 308.13H139.28M137.74 308.66H139.28M138.54 307.6V308.66M142.51 306.97H140.39M141.45 306.54V308.66M141.58 307.49L142.78 308.44M141.32 307.49L140.12 308.44M142.78 307.71H140.12M143.62 306.71H146.28M144.95 306.54V307.39M144.02 307.39H145.88V308.66H144.02ZM144.02 308.02H145.88" stroke="#00ecf0" stroke-width="1.3" fill="none"/>
<rect x="608.3" y="308.7" width="13.2" height="5.6" stroke="#00c8d2" stroke-width="1.1" fill="none"/>
<path d="M610.21 310.81H610.98M610.21 311.5H610.98M610.6 310.47V312.64M611.37 310.47H612.79V311.5H611.37ZM611.29 312.07H612.79M611.29 312.64H612.79M612.07 311.5V312.64M615.88 310.36V312.64M616.19 311.16H615.42M616.19 311.96H615.42M615.16 310.58H613.61M614.38 310.58V312.64M615.03 311.39H613.61M615.03 312.19H613.61M617.01 310.36H619.59V312.64H617.01ZM617.01 311.5H619.59M618.3 310.7V312.3" stroke="#00ecf0" stroke-width="1.3" fill="none"/>
<rect x="187.7" y="220.6" width="12.4" height="6.1" stroke="#00c8d2" stroke-width="1.1" fill="none"/>
<path d="M189.81 222.7H191.72M189.58 223.43H191.96M190.29 222.7V223.43M191.24 222.7V223.43M189.81 223.92H191.72V225.01H189.81ZM195.09 222.56H192.71M194.97 222.56V225.01M194.38 223.38H192.95M194.38 224.2H192.95M193.66 222.97V225.01M194.85 225.01H192.71M195.84 222.83H196.56M195.84 223.65H196.56M196.2 222.42V225.01M196.91 222.42H198.22V223.65H196.91ZM196.84 224.33H198.22M196.84 225.01H198.22M197.56 223.65V225.01" stroke="#00ecf0" stroke-width="1.3" fill="none"/>
<rect x="284.3" y="221" width="12.6" height="5.5" stroke="#00c8d2" stroke-width="1.1" fill="none"/>
<path d="M288.62 222.65H286.18V224.85H288.62ZM288.62 223.75H286.18M287.4 222.98V224.52M289.38 223.31H291.82M290.72 222.65L289.51 224.85M290.6 223.42L291.82 224.85M289.87 224.08H291.33M292.58 222.87H295.02M292.71 222.87V224.85M293.31 223.53H294.77M293.31 224.19H294.77M294.04 223.2V224.85M292.83 224.85H295.02" stroke="#00ecf0" stroke-width="1.3" fill="none"/>
<rect x="484.6" y="220.5" width="15.8" height="6" stroke="#00c8d2" stroke-width="1.1" fill="none"/>
<path d="M489.85 222.97H486.61M488.07 222.18L489.69 224.82M488.23 223.1L486.61 224.82M489.21 223.9H487.26M491.2 222.71H493.8M492.5 222.18V224.82M492.34 223.37L490.88 224.56M492.66 223.37L494.12 224.56M490.88 223.63H494.12M498.39 222.71H497.42M498.39 223.5H497.42M497.9 222.31V224.82M496.93 222.31H495.15V223.5H496.93ZM497.03 224.16H495.15M497.03 224.82H495.15M496.05 223.5V224.82" stroke="#00ecf0" stroke-width="1.3" fill="none"/>
<rect x="540.5" y="220.5" width="14" height="6" stroke="#00c8d2" stroke-width="1.1" fill="none"/>
<path d="M545.23 222.44H542.44M545.09 222.44V224.82M544.39 223.24H542.72M544.39 224.03H542.72M543.55 222.84V224.82M544.95 224.82H542.44M548.56 222.18V224.82M548.89 223.1H548.06M548.89 224.03H548.06M547.78 222.44H546.11M546.94 222.44V224.82M547.64 223.37H546.11M547.64 224.29H546.11M552.56 222.71H551.72M552.56 223.5H551.72M552.14 222.31V224.82M551.31 222.31H549.77V223.5H551.31ZM551.39 224.16H549.77M551.39 224.82H549.77M550.55 223.5V224.82" stroke="#00ecf0" stroke-width="1.3" fill="none"/>
<rect x="172.2" y="180.1" width="10.8" height="11.7" fill="#d40000"/>
<ellipse cx="175.76" cy="183.26" rx="1.62" ry="1.52" fill="#000"/>
<ellipse cx="179.22" cy="183.38" rx="1.51" ry="1.4" fill="#000"/>
<path d="M174.36 186.18H180.62Q180.84 188.88 178.14 189.46L177.06 190.4Q174.36 190.04 174.36 186.18Z" fill="#000"/>
<rect x="171.5" y="212.2" width="10.8" height="11.7" fill="#d40000"/>
<ellipse cx="175.06" cy="215.36" rx="1.62" ry="1.52" fill="#000"/>
<ellipse cx="178.52" cy="215.48" rx="1.51" ry="1.4" fill="#000"/>
<path d="M173.66 218.28H179.92Q180.14 220.97 177.44 221.56L176.36 222.5Q173.66 222.14 173.66 218.28Z" fill="#000"/>
<rect x="171.5" y="245.9" width="10.8" height="11.7" fill="#d40000"/>
<ellipse cx="175.06" cy="249.06" rx="1.62" ry="1.52" fill="#000"/>
<ellipse cx="178.52" cy="249.18" rx="1.51" ry="1.4" fill="#000"/>
<path d="M173.66 251.98H179.92Q180.14 254.68 177.44 255.26L176.36 256.2Q173.66 255.84 173.66 251.98Z" fill="#000"/>
<rect x="216.3" y="193.5" width="10.8" height="11.7" fill="#d40000"/>
<ellipse cx="219.86" cy="196.66" rx="1.62" ry="1.52" fill="#000"/>
<ellipse cx="223.32" cy="196.78" rx="1.51" ry="1.4" fill="#000"/>
<path d="M218.46 199.58H224.72Q224.94 202.28 222.24 202.86L221.16 203.8Q218.46 203.44 218.46 199.58Z" fill="#000"/>
<rect x="216.8" y="230.6" width="10.8" height="11.7" fill="#d40000"/>
<ellipse cx="220.36" cy="233.76" rx="1.62" ry="1.52" fill="#000"/>
<ellipse cx="223.82" cy="233.88" rx="1.51" ry="1.4" fill="#000"/>
<path d="M218.96 236.68H225.22Q225.44 239.38 222.74 239.96L221.66 240.9Q218.96 240.54 218.96 236.68Z" fill="#000"/>
<rect x="260.4" y="212.3" width="10.8" height="11.7" fill="#d40000"/>
<ellipse cx="263.96" cy="215.46" rx="1.62" ry="1.52" fill="#000"/>
<ellipse cx="267.42" cy="215.58" rx="1.51" ry="1.4" fill="#000"/>
<path d="M262.56 218.38H268.82Q269.04 221.08 266.34 221.66L265.26 222.6Q262.56 222.25 262.56 218.38Z" fill="#000"/>
<rect x="482" y="180" width="10.8" height="11.7" fill="#d40000"/>
<ellipse cx="485.56" cy="183.16" rx="1.62" ry="1.52" fill="#000"/>
<ellipse cx="489.02" cy="183.28" rx="1.51" ry="1.4" fill="#000"/>
<path d="M484.16 186.08H490.42Q490.64 188.78 487.94 189.36L486.86 190.3Q484.16 189.94 484.16 186.08Z" fill="#000"/>
<rect x="467.4" y="215.2" width="10.8" height="11.7" fill="#d40000"/>
<ellipse cx="470.96" cy="218.36" rx="1.62" ry="1.52" fill="#000"/>
<ellipse cx="474.42" cy="218.48" rx="1.51" ry="1.4" fill="#000"/>
<path d="M469.56 221.28H475.82Q476.04 223.97 473.34 224.56L472.26 225.5Q469.56 225.14 469.56 221.28Z" fill="#000"/>
<rect x="474.4" y="249.7" width="10.8" height="11.7" fill="#d40000"/>
<ellipse cx="477.96" cy="252.86" rx="1.62" ry="1.52" fill="#000"/>
<ellipse cx="481.42" cy="252.98" rx="1.51" ry="1.4" fill="#000"/>
<path d="M476.56 255.78H482.82Q483.04 258.47 480.34 259.06L479.26 260Q476.56 259.64 476.56 255.78Z" fill="#000"/>
<rect x="562.9" y="175.7" width="10.8" height="11.7" fill="#d40000"/>
<ellipse cx="566.46" cy="178.86" rx="1.62" ry="1.52" fill="#000"/>
<ellipse cx="569.92" cy="178.98" rx="1.51" ry="1.4" fill="#000"/>
<path d="M565.06 181.78H571.32Q571.54 184.47 568.84 185.06L567.76 186Q565.06 185.64 565.06 181.78Z" fill="#000"/>
<rect x="562.9" y="213" width="10.8" height="11.7" fill="#d40000"/>
<ellipse cx="566.46" cy="216.16" rx="1.62" ry="1.52" fill="#000"/>
<ellipse cx="569.92" cy="216.28" rx="1.51" ry="1.4" fill="#000"/>
<path d="M565.06 219.08H571.32Q571.54 221.78 568.84 222.36L567.76 223.3Q565.06 222.94 565.06 219.08Z" fill="#000"/>
<rect x="562.9" y="256.1" width="10.8" height="11.7" fill="#d40000"/>
<ellipse cx="566.46" cy="259.26" rx="1.62" ry="1.52" fill="#000"/>
<ellipse cx="569.92" cy="259.38" rx="1.51" ry="1.4" fill="#000"/>
<path d="M565.06 262.18H571.32Q571.54 264.88 568.84 265.46L567.76 266.4Q565.06 266.05 565.06 262.18Z" fill="#000"/>
<path d="M147.9 185.04H144.7M146.14 183.46L147.74 188.74M146.3 185.31L144.7 188.74M147.26 186.89H145.34M148.9 184.52H149.86M148.9 186.1H149.86M149.38 183.72V188.74M150.34 183.72H152.1V186.1H150.34ZM150.24 187.42H152.1M150.24 188.74H152.1M151.2 186.1V188.74M156.3 184.52H155.34M156.3 186.1H155.34M155.82 183.72V188.74M154.86 183.72H153.1V186.1H154.86ZM154.96 187.42H153.1M154.96 188.74H153.1M154 186.1V188.74M160.5 184.52H159.54M160.5 186.1H159.54M160.02 183.72V188.74M159.06 183.72H157.3V186.1H159.06ZM159.16 187.42H157.3M159.16 188.74H157.3M158.2 186.1V188.74M164.38 184.52H161.82M163.1 183.46V188.74M163.26 185.84L164.7 188.21M162.94 185.84L161.5 188.21M164.7 186.36H161.5" stroke="#00ecf0" stroke-width="1.3" fill="none"/>
<path d="M143.68 222.5H141.12M142.4 221.53V226.37M142.56 223.71L144 225.89M142.24 223.71L140.8 225.89M144 224.19H140.8M145 222.01H148.2M145.16 222.01V226.37M145.96 223.47H147.88M145.96 224.92H147.88M146.92 222.74V226.37M145.32 226.37H148.2M149.2 222.01H152.4M149.36 222.01V226.37M150.16 223.47H152.08M150.16 224.92H152.08M151.12 222.74V226.37M149.52 226.37H152.4M153.4 222.5H154.36M153.4 223.95H154.36M153.88 221.77V226.37M154.84 221.77H156.6V223.95H154.84ZM154.74 225.16H156.6M154.74 226.37H156.6M155.7 223.95V226.37M157.6 221.53H160.8V226.37H157.6ZM157.6 223.95H160.8M159.2 222.26V225.64" stroke="#00ecf0" stroke-width="1.3" fill="none"/>
<path d="M145.02 248.72H147.58M146.3 247.66V252.94M146.14 250.04L144.7 252.41M146.46 250.04L147.9 252.41M144.7 250.56H147.9M152.1 248.08H148.9M150.5 247.66V249.77M151.62 249.77H149.38V252.94H151.62ZM151.62 251.36H149.38M155.98 248.72H153.42M154.7 247.66V252.94M154.86 250.04L156.3 252.41M154.54 250.04L153.1 252.41M156.3 250.56H153.1M160.5 249.24H157.3M158.74 247.66L160.34 252.94M158.9 249.51L157.3 252.94M159.86 251.09H157.94M161.82 248.45H164.38M161.5 249.88H164.7M162.46 248.45V249.88M163.74 248.45V249.88M161.82 250.83H164.38V252.94H161.82Z" stroke="#00ecf0" stroke-width="1.3" fill="none"/>
<path d="M158.8 159.03H163.2M159.02 159.03V161.6M160.12 159.89H162.76M160.12 160.75H162.76M161.44 159.46V161.6M159.24 161.6H163.2M158.8 162.5H163.2V165.35H158.8ZM158.8 163.93H163.2M161 162.93V164.92" stroke="#00ecf0" stroke-width="1.3" fill="none"/>
<path d="M159.1 276.61H163.5M161.52 275.75L159.32 278.6M161.3 276.75L163.5 278.6M159.98 277.6H162.62M159.1 280.36H163.5M161.52 279.5L159.32 282.35M161.3 280.5L163.5 282.35M159.98 281.35H162.62" stroke="#00ecf0" stroke-width="1.3" fill="none"/>
<path d="M224.68 222.33V227.17M225.15 224.02H223.97M225.15 225.72H223.97M223.58 222.81H221.22M222.4 222.81V227.17M223.38 224.51H221.22M223.38 226.2H221.22M226.39 222.81H230.31M226.58 222.81V227.17M227.56 224.27H229.92M227.56 225.72H229.92M228.74 223.54V227.17M226.78 227.17H230.31M231.95 223.06H235.09M231.55 224.36H235.48M232.73 223.06V224.36M234.3 223.06V224.36M231.95 225.23H235.09V227.17H231.95ZM236.72 223.3H237.9M236.72 224.75H237.9M237.31 222.57V227.17M238.49 222.57H240.65V224.75H238.49ZM238.37 225.96H240.65M238.37 227.17H240.65M239.55 224.75V227.17M241.89 222.81H245.81M242.08 222.81V227.17M243.06 224.27H245.42M243.06 225.72H245.42M244.24 223.54V227.17M242.28 227.17H245.81M250.59 223.3H247.45M249.02 222.33V227.17M249.21 224.51L250.98 226.69M248.82 224.51L247.05 226.69M250.98 224.99H247.05" stroke="#00ecf0" stroke-width="1.3" fill="none"/>
<path d="M438.68 220.95H436.12M439 222.38H435.8M438.04 220.95V222.38M436.76 220.95V222.38M438.68 223.33H436.12V225.44H438.68ZM443.2 220.16H440V225.44H443.2ZM443.2 222.8H440M441.6 220.95V224.65M447.4 220.16H444.2V225.44H447.4ZM447.4 222.8H444.2M445.8 220.95V224.65M448.4 220.58H451.6M450 220.16V222.27M448.88 222.27H451.12V225.44H448.88ZM448.88 223.86H451.12M455.8 220.58H452.6M454.2 220.16V222.27M455.32 222.27H453.08V225.44H455.32ZM455.32 223.86H453.08" stroke="#00ecf0" stroke-width="1.3" fill="none"/>
<path d="M408.6 211.44H409.74M408.6 212.5H409.74M409.17 210.92V214.26M410.31 210.92H412.4V212.5H410.31ZM410.2 213.38H412.4M410.2 214.26H412.4M411.34 212.5V214.26M413.6 210.74H417.4V214.26H413.6ZM413.6 212.5H417.4M415.5 211.27V213.73" stroke="#00ecf0" stroke-width="1.3" fill="none"/>
<line x1="408" y1="222" x2="420" y2="222" stroke="#a0a0a0" stroke-width="1"/>
<line x1="408" y1="225" x2="420" y2="225" stroke="#a0a0a0" stroke-width="1"/>
<line x1="408" y1="227.5" x2="420" y2="227.5" stroke="#a0a0a0" stroke-width="1"/>
<rect x="459.8" y="211.8" width="1.6" height="1.6" fill="#c8c000"/>
<rect x="480.6" y="211.8" width="1.6" height="1.6" fill="#c8c000"/>
<rect x="501.2" y="211.8" width="1.6" height="1.6" fill="#c8c000"/>
<rect x="459.8" y="224.2" width="1.6" height="1.6" fill="#c8c000"/>
<rect x="501.2" y="224.2" width="1.6" height="1.6" fill="#c8c000"/>
<path d="M539.31 180.36V185.64M539.7 182.21H538.74M539.7 184.06H538.74M538.42 180.89H536.5M537.46 180.89V185.64M538.26 182.74H536.5M538.26 184.58H536.5M540.7 181.42H541.66M540.7 183H541.66M541.18 180.62V185.64M542.14 180.62H543.9V183H542.14ZM542.04 184.32H543.9M542.04 185.64H543.9M543 183V185.64M544.9 181.42H545.86M544.9 183H545.86M545.38 180.62V185.64M546.34 180.62H548.1V183H546.34ZM546.24 184.32H548.1M546.24 185.64H548.1M547.2 183V185.64M551.98 181.15H549.42M552.3 182.58H549.1M551.34 181.15V182.58M550.06 181.15V182.58M551.98 183.53H549.42V185.64H551.98ZM553.62 181.15H556.18M553.3 182.58H556.5M554.26 181.15V182.58M555.54 181.15V182.58M553.62 183.53H556.18V185.64H553.62Z" stroke="#00ecf0" stroke-width="1.3" fill="none"/>
<path d="M638.6 178.42H639.74M638.6 180H639.74M639.17 177.62V182.64M640.31 177.62H642.4V180H640.31ZM640.2 181.32H642.4M640.2 182.64H642.4M641.34 180V182.64M647.02 178.42H643.98M645.5 177.36V182.64M645.69 179.74L647.4 182.11M645.31 179.74L643.6 182.11M647.4 180.26H643.6M652.02 178.42H648.98M650.5 177.36V182.64M650.69 179.74L652.4 182.11M650.31 179.74L648.6 182.11M652.4 180.26H648.6" stroke="#00ecf0" stroke-width="1.3" fill="none"/>
<path d="M539.38 216.42H536.82M538.1 215.36V220.64M538.26 217.74L539.7 220.11M537.94 217.74L536.5 220.11M539.7 218.26H536.5M543.9 215.36H540.7V220.64H543.9ZM543.9 218H540.7M542.3 216.15V219.85M548.1 215.36H544.9V220.64H548.1ZM548.1 218H544.9M546.5 216.15V219.85M552.3 215.36H549.1V220.64H552.3ZM552.3 218H549.1M550.7 216.15V219.85M553.62 216.15H556.18M553.3 217.58H556.5M554.26 216.15V217.58M555.54 216.15V217.58M553.62 218.53H556.18V220.64H553.62Z" stroke="#00ecf0" stroke-width="1.3" fill="none"/>
<path d="M638.6 212.78H642.4M640.5 212.36V214.47M639.17 214.47H641.83V217.64H639.17ZM639.17 216.06H641.83M647.4 213.42H646.26M647.4 215H646.26M646.83 212.62V217.64M645.69 212.62H643.6V215H645.69ZM645.8 216.32H643.6M645.8 217.64H643.6M644.66 215V217.64M652.4 212.78H648.6M650.5 212.36V214.47M651.83 214.47H649.17V217.64H651.83ZM651.83 216.06H649.17" stroke="#00ecf0" stroke-width="1.3" fill="none"/>
<path d="M539.17 260H536.55M537.86 259.03V263.87M538.02 261.21L539.5 263.39M537.7 261.21L536.22 263.39M539.5 261.69H536.22M540.93 259.03V263.87M540.54 260.72H541.52M540.54 262.42H541.52M541.85 259.51H543.82M542.84 259.51V263.87M542.02 261.21H543.82M542.02 262.9H543.82M544.86 259.42H548.14M546.5 259.03V260.97M545.35 260.97H547.65V263.87H545.35ZM545.35 262.42H547.65M549.57 259.03V263.87M549.18 260.72H550.16M549.18 262.42H550.16M550.49 259.51H552.46M551.48 259.51V263.87M550.66 261.21H552.46M550.66 262.9H552.46M553.83 260H556.45M555.14 259.03V263.87M554.98 261.21L553.5 263.39M555.3 261.21L556.78 263.39M553.5 261.69H556.78" stroke="#00ecf0" stroke-width="1.3" fill="none"/>
<path d="M638.3 253.44H642.1M640.39 251.86L638.49 257.14M640.2 253.71L642.1 257.14M639.06 255.29H641.34M643.3 252.92H644.44M643.3 254.5H644.44M643.87 252.12V257.14M645.01 252.12H647.1V254.5H645.01ZM644.9 255.82H647.1M644.9 257.14H647.1M646.04 254.5V257.14M648.3 252.39H652.1M648.49 252.39V257.14M649.44 253.97H651.72M649.44 255.56H651.72M650.58 253.18V257.14M648.68 257.14H652.1" stroke="#00ecf0" stroke-width="1.3" fill="none"/>
<path d="M556.73 158.72H552.77M554.75 158.48V159.7M556.14 159.7H553.36V161.52H556.14ZM556.14 160.61H553.36M552.77 162.78H556.73M552.97 162.78V165.52M553.96 163.7H556.33M553.96 164.61H556.33M555.15 163.24V165.52M553.17 165.52H556.73" stroke="#00ecf0" stroke-width="1.3" fill="none"/>
<path d="M629.27 158.72H633.23M631.25 158.48V159.7M629.86 159.7H632.64V161.52H629.86ZM629.86 160.61H632.64M629.27 163.39H633.23M631.45 162.48L629.47 165.52M631.25 163.54L633.23 165.52M630.06 164.46H632.44" stroke="#00ecf0" stroke-width="1.3" fill="none"/>
<path d="M550.47 275.68H554.43M552.65 274.71L550.67 277.94M552.45 275.84L554.43 277.94M551.26 276.81H553.64M550.47 279.61H551.66M550.47 280.57H551.66M551.06 279.12V282.19M552.25 279.12H554.43V280.57H552.25ZM552.13 281.38H554.43M552.13 282.19H554.43M553.32 280.57V282.19" stroke="#00ecf0" stroke-width="1.3" fill="none"/>
<path d="M631.75 274.71V277.94M632.23 275.84H631.04M632.23 276.97H631.04M630.65 275.03H628.27M629.46 275.03V277.94M630.45 276.16H628.27M630.45 277.29H628.27M632.23 279.93H628.27M630.05 278.96L632.03 282.19M630.25 280.09L628.27 282.19M631.44 281.06H629.06" stroke="#00ecf0" stroke-width="1.3" fill="none"/>
<path d="M523.6 191.31H527.4M523.79 191.31V195.67M524.74 192.77H527.02M524.74 194.22H527.02M525.88 192.04V195.67M523.98 195.67H527.4M532.02 191.56H528.98M532.4 192.86H528.6M531.26 191.56V192.86M529.74 191.56V192.86M532.02 193.73H528.98V195.67H532.02ZM537.02 191.8H533.98M535.5 190.83V195.67M535.69 193.01L537.4 195.19M535.31 193.01L533.6 195.19M537.4 193.49H533.6M542.4 192.28H538.6M540.31 190.83L542.21 195.67M540.5 192.52L538.6 195.67M541.64 193.98H539.36M547.4 190.83H543.6V195.67H547.4ZM547.4 193.25H543.6M545.5 191.56V194.94M548.98 191.8H552.02M550.5 190.83V195.67M550.31 193.01L548.6 195.19M550.69 193.01L552.4 195.19M548.6 193.49H552.4M557.4 192.28H553.6M555.31 190.83L557.21 195.67M555.5 192.52L553.6 195.67M556.64 193.98H554.36M558.6 191.22H562.4M560.5 190.83V192.77M559.17 192.77H561.83V195.67H559.17ZM559.17 194.22H561.83M563.6 191.22H567.4M565.5 190.83V192.77M564.17 192.77H566.83V195.67H564.17ZM564.17 194.22H566.83" stroke="#00ecf0" stroke-width="1.3" fill="none"/>
<path d="M523.6 202.44H527.4M525.69 200.86L523.79 206.14M525.5 202.71L527.4 206.14M524.36 204.29H526.64M532.02 201.65H528.98M532.4 203.08H528.6M531.26 201.65V203.08M529.74 201.65V203.08M532.02 204.03H528.98V206.14H532.02ZM533.6 200.86H537.4V206.14H533.6ZM533.6 203.5H537.4M535.5 201.65V205.35M539.06 200.86V206.14M538.6 202.71H539.74M538.6 204.56H539.74M540.12 201.39H542.4M541.26 201.39V206.14M540.31 203.24H542.4M540.31 205.08H542.4M544.06 200.86V206.14M543.6 202.71H544.74M543.6 204.56H544.74M545.12 201.39H547.4M546.26 201.39V206.14M545.31 203.24H547.4M545.31 205.08H547.4M548.6 202.44H552.4M550.69 200.86L548.79 206.14M550.5 202.71L552.4 206.14M549.36 204.29H551.64M553.6 201.28H557.4M555.5 200.86V202.97M554.17 202.97H556.83V206.14H554.17ZM554.17 204.56H556.83M561.94 200.86V206.14M562.4 202.71H561.26M562.4 204.56H561.26M560.88 201.39H558.6M559.74 201.39V206.14M560.69 203.24H558.6M560.69 205.08H558.6M563.6 200.86H567.4V206.14H563.6ZM563.6 203.5H567.4M565.5 201.65V205.35" stroke="#00ecf0" stroke-width="1.3" fill="none"/>
<line x1="520" y1="198.5" x2="573" y2="198.5" stroke="#00c8d2" stroke-width="0.9"/>
<polyline points="490.2,218.2 520,198.5" stroke="#00c8d2" stroke-width="0.9" fill="none" stroke-linejoin="miter"/>
<line x1="665.5" y1="209" x2="665.5" y2="228" stroke="#a0a0a0" stroke-width="1"/>
<line x1="407.9" y1="209.5" x2="407.9" y2="228.5" stroke="#c8c000" stroke-width="1.1"/>
<line x1="431.2" y1="209.5" x2="431.2" y2="228.5" stroke="#c8c000" stroke-width="1.1"/>
<line x1="512" y1="209.5" x2="512" y2="228.5" stroke="#c8c000" stroke-width="1.1"/>
<line x1="213" y1="209.5" x2="213" y2="233" stroke="#9a9a9a" stroke-width="1"/>
<polyline points="241,267 259,293.8 307,293.8" stroke="#00c8d2" stroke-width="0.9" fill="none" stroke-linejoin="miter"/>
<path d="M259.62 288.78H263.51M261.76 287.33L259.81 292.17M261.56 289.02L263.51 292.17M260.39 290.48H262.73M264.74 288.78H268.63M266.88 287.33L264.93 292.17M266.69 289.02L268.63 292.17M265.52 290.48H267.86M270.33 287.33V292.17M269.87 289.02H271.03M269.87 290.72H271.03M271.42 287.81H273.76M272.59 287.81V292.17M271.62 289.51H273.76M271.62 291.2H273.76M275.46 287.33V292.17M274.99 289.02H276.16M274.99 290.72H276.16M276.55 287.81H278.88M277.72 287.81V292.17M276.74 289.51H278.88M276.74 291.2H278.88M284.01 288.3H282.84M284.01 289.75H282.84M283.43 287.57V292.17M282.26 287.57H280.12V289.75H282.26ZM282.37 290.96H280.12M282.37 292.17H280.12M281.21 289.75V292.17M285.63 288.3H288.75M287.19 287.33V292.17M286.99 289.51L285.24 291.69M287.38 289.51L289.13 291.69M285.24 289.99H289.13M293.87 288.3H290.75M292.31 287.33V292.17M292.51 289.51L294.26 291.69M292.12 289.51L290.37 291.69M294.26 289.99H290.37M295.88 288.06H299M295.49 289.36H299.38M296.66 288.06V289.36M298.22 288.06V289.36M295.88 290.23H299V292.17H295.88Z" stroke="#00ecf0" stroke-width="1.3" fill="none"/>
<polyline points="497.4,268.2 483.8,292 435,292" stroke="#00c8d2" stroke-width="0.9" fill="none" stroke-linejoin="miter"/>
<path d="M441.32 286.8H438.05M439.69 285.83V290.67M439.89 288.01L441.73 290.19M439.48 288.01L437.64 290.19M441.73 288.49H437.64M443.02 285.83H447.1V290.67H443.02ZM443.02 288.25H447.1M445.06 286.56V289.94M448.39 287.28H452.48M450.64 285.83L448.6 290.67M450.44 287.52L452.48 290.67M449.21 288.98H451.66M453.77 286.31H457.85M453.97 286.31V290.67M455 287.77H457.45M455 289.22H457.45M456.22 287.04V290.67M454.18 290.67H457.85M459.55 286.56H462.82M459.14 287.86H463.23M460.37 286.56V287.86M462 286.56V287.86M459.55 288.73H462.82V290.67H459.55ZM464.52 286.31H468.6M464.72 286.31V290.67M465.75 287.77H468.2M465.75 289.22H468.2M466.97 287.04V290.67M464.93 290.67H468.6M470.3 286.56H473.57M469.89 287.86H473.98M471.12 286.56V287.86M472.75 286.56V287.86M470.3 288.73H473.57V290.67H470.3ZM475.68 286.56H478.95M475.27 287.86H479.35M476.5 286.56V287.86M478.13 286.56V287.86M475.68 288.73H478.95V290.67H475.68Z" stroke="#00ecf0" stroke-width="1.3" fill="none"/>
<polygon points="117.5,212 121,212 124,218.5 121,225 117.5,225 119,218.5" stroke="#00c8d2" stroke-width="1.1" fill="none" stroke-linejoin="miter"/>
<path d="M318.98 341.71H323.57M318.41 344.44H324.15M320.13 341.71V344.44M322.43 341.71V344.44M318.98 346.26H323.57V350.31H318.98ZM325.96 343.23H331.7M329.12 340.19L326.25 350.31M328.83 343.73L331.7 350.31M327.11 346.77H330.56M334.09 341.71H338.69M333.52 344.44H339.26M335.24 341.71V344.44M337.54 341.71V344.44M334.09 346.26H338.69V350.31H334.09ZM341.07 342.21H342.8M341.07 345.25H342.8M341.93 340.7V350.31M343.66 340.7H346.82V345.25H343.66ZM343.49 347.78H346.82M343.49 350.31H346.82M345.21 345.25V350.31M348.63 340.19H354.37V350.31H348.63ZM348.63 345.25H354.37M351.5 341.71V348.79M356.18 343.23H361.93M359.34 340.19L356.47 350.31M359.06 343.73L361.93 350.31M357.33 346.77H360.78M363.74 342.21H365.46M363.74 345.25H365.46M364.6 340.7V350.31M366.32 340.7H369.48V345.25H366.32ZM366.15 347.78H369.48M366.15 350.31H369.48M367.87 345.25V350.31M371.87 342.21H376.46M374.17 340.19V350.31M373.88 344.74L371.3 349.3M374.45 344.74L377.04 349.3M371.3 345.76H377.04M378.85 342.21H380.57M378.85 345.25H380.57M379.71 340.7V350.31M381.44 340.7H384.59V345.25H381.44ZM381.26 347.78H384.59M381.26 350.31H384.59M382.99 345.25V350.31" stroke="#ececec" stroke-width="1.3" fill="none"/>
<text x="395" y="350.5" font-family="Liberation Sans" font-weight="bold" font-size="7.5" fill="#e0e0e0" textLength="14" lengthAdjust="spacingAndGlyphs">1:100</text>
<rect x="315" y="352" width="98" height="1.8" fill="#d0d0d0"/>
<rect x="315" y="354.8" width="98" height="1.1" fill="#b0b0b0"/>
<rect x="50" y="423.9" width="510.6" height="53.2" stroke="#ffff00" stroke-width="3.6" fill="none"/>
<line x1="70.6" y1="425" x2="70.6" y2="476" stroke="#ececec" stroke-width="1"/>
<line x1="89.6" y1="425" x2="89.6" y2="476" stroke="#ececec" stroke-width="1"/>
<line x1="109.1" y1="425" x2="109.1" y2="476" stroke="#ececec" stroke-width="1"/>
<line x1="238.4" y1="425" x2="238.4" y2="476" stroke="#ececec" stroke-width="1"/>
<line x1="266.8" y1="425" x2="266.8" y2="476" stroke="#ececec" stroke-width="1"/>
<line x1="295.7" y1="425" x2="295.7" y2="476" stroke="#ececec" stroke-width="1"/>
<line x1="173" y1="435" x2="173" y2="476" stroke="#ececec" stroke-width="1"/>
<line x1="132" y1="447.3" x2="132" y2="476" stroke="#ececec" stroke-width="1"/>
<line x1="156.5" y1="447.3" x2="156.5" y2="476" stroke="#ececec" stroke-width="1"/>
<line x1="196.2" y1="447.3" x2="196.2" y2="476" stroke="#ececec" stroke-width="1"/>
<line x1="220.6" y1="447.3" x2="220.6" y2="476" stroke="#ececec" stroke-width="1"/>
<line x1="325.8" y1="442.4" x2="325.8" y2="476" stroke="#ececec" stroke-width="1"/>
<line x1="355.4" y1="442.4" x2="355.4" y2="476" stroke="#ececec" stroke-width="1"/>
<line x1="384.6" y1="442.4" x2="384.6" y2="476" stroke="#ececec" stroke-width="1"/>
<line x1="413.6" y1="442.4" x2="413.6" y2="476" stroke="#ececec" stroke-width="1"/>
<line x1="442.6" y1="442.4" x2="442.6" y2="476" stroke="#ececec" stroke-width="1"/>
<line x1="472.2" y1="442.4" x2="472.2" y2="476" stroke="#ececec" stroke-width="1"/>
<line x1="501.6" y1="442.4" x2="501.6" y2="476" stroke="#ececec" stroke-width="1"/>
<line x1="530.6" y1="442.4" x2="530.6" y2="476" stroke="#ececec" stroke-width="1"/>
<line x1="109" y1="435" x2="238.4" y2="435" stroke="#ececec" stroke-width="1"/>
<line x1="109" y1="447.3" x2="238.4" y2="447.3" stroke="#ececec" stroke-width="1"/>
<line x1="295.7" y1="442.4" x2="559" y2="442.4" stroke="#ececec" stroke-width="1"/>
<line x1="51" y1="466.3" x2="559" y2="466.3" stroke="#ececec" stroke-width="1"/>
<path d="M279.71 412.57H285.46V420.93H279.71ZM279.71 416.75H285.46M282.59 413.82V419.68M287.28 415.08H293.03M290.44 412.57L287.57 420.93M290.16 415.5L293.03 420.93M288.43 418H291.88M294.85 415.08H300.61M298.02 412.57L295.14 420.93M297.73 415.5L300.61 420.93M296 418H299.45M302.42 412.57H308.18V420.93H302.42ZM302.42 416.75H308.18M305.3 413.82V419.68M309.99 414.24H311.72M309.99 416.75H311.72M310.86 412.99V420.93M312.58 412.99H315.75V416.75H312.58ZM312.41 418.84H315.75M312.41 420.93H315.75M314.14 416.75V420.93M322.63 412.57V420.93M323.32 415.5H321.59M323.32 418.42H321.59M321.02 413.41H317.57M319.29 413.41V420.93M320.73 416.33H317.57M320.73 419.26H317.57M325.71 413.82H330.32M325.14 416.08H330.89M326.86 413.82V416.08M329.17 413.82V416.08M325.71 417.59H330.32V420.93H325.71Z" stroke="#ececec" stroke-width="1.3" fill="none"/>
<path d="M57.1 433.42H59.9M58.5 432.36V437.64M58.33 434.74L56.75 437.11M58.67 434.74L60.25 437.11M56.75 435.26H60.25M61.7 433.15H64.5M61.35 434.58H64.85M62.4 433.15V434.58M63.8 433.15V434.58M61.7 435.53H64.5V437.64H61.7Z" stroke="#ececec" stroke-width="1.17" fill="none"/>
<path d="M59.9 441.92H57.1M58.5 440.86V446.14M58.67 443.24L60.25 445.61M58.33 443.24L56.75 445.61M60.25 443.76H56.75M64.85 441.92H63.8M64.85 443.5H63.8M64.32 441.12V446.14M63.27 441.12H61.35V443.5H63.27ZM63.38 444.82H61.35M63.38 446.14H61.35M62.33 443.5V446.14" stroke="#ececec" stroke-width="1.17" fill="none"/>
<path d="M55.78 453.96H58.22M55.48 455.15H58.52M56.39 453.96V455.15M57.61 453.96V455.15M55.78 455.94H58.22V457.7H55.78ZM62.16 453.3V457.7M62.52 454.84H61.61M62.52 456.38H61.61M61.3 453.74H59.48M60.39 453.74V457.7M61.15 455.28H59.48M61.15 456.82H59.48M63.48 453.74H66.52M63.63 453.74V457.7M64.39 455.06H66.22M64.39 456.38H66.22M65.3 454.4V457.7M63.78 457.7H66.52" stroke="#ececec" stroke-width="1.17" fill="none"/>
<path d="M77.25 433.94H73.75M75.33 432.36L77.07 437.64M75.5 434.21L73.75 437.64M76.55 435.79H74.45M81.5 433.42H78.7M80.1 432.36V437.64M80.27 434.74L81.85 437.11M79.93 434.74L78.35 437.11M81.85 435.26H78.35M83.3 433.15H86.1M82.95 434.58H86.45M84 433.15V434.58M85.4 433.15V434.58M83.3 435.53H86.1V437.64H83.3Z" stroke="#ececec" stroke-width="1.17" fill="none"/>
<path d="M76.47 440.86V446.14M76.05 442.71H77.1M76.05 444.56H77.1M77.45 441.39H79.55M78.5 441.39V446.14M77.63 443.24H79.55M77.63 445.08H79.55M84.15 442.44H80.65M82.23 440.86L83.97 446.14M82.4 442.71L80.65 446.14M83.45 444.29H81.35" stroke="#ececec" stroke-width="1.17" fill="none"/>
<path d="M76.78 453.96H79.22M76.48 455.15H79.52M77.39 453.96V455.15M78.61 453.96V455.15M76.78 455.94H79.22V457.7H76.78ZM80.78 453.96H83.22M80.48 455.15H83.52M81.39 453.96V455.15M82.61 453.96V455.15M80.78 455.94H83.22V457.7H80.78Z" stroke="#ececec" stroke-width="1.17" fill="none"/>
<path d="M93 433.42H94.05M93 435H94.05M93.53 432.62V437.64M94.58 432.62H96.5V435H94.58ZM94.47 436.32H96.5M94.47 437.64H96.5M95.52 435V437.64M97.95 433.15H100.75M97.6 434.58H101.1M98.65 433.15V434.58M100.05 433.15V434.58M97.95 435.53H100.75V437.64H97.95ZM102.2 433.94H105.7M104.12 432.36L102.38 437.64M103.95 434.21L105.7 437.64M102.9 435.79H105" stroke="#ececec" stroke-width="1.17" fill="none"/>
<path d="M95.65 441.92H98.45M97.05 440.86V446.14M96.88 443.24L95.3 445.61M97.22 443.24L98.8 445.61M95.3 443.76H98.8M99.9 441.28H103.4M101.65 440.86V442.97M100.43 442.97H102.87V446.14H100.43ZM100.43 444.56H102.87" stroke="#ececec" stroke-width="1.17" fill="none"/>
<path d="M95.84 453.3V457.7M95.48 454.84H96.39M95.48 456.38H96.39M96.7 453.74H98.52M97.61 453.74V457.7M96.85 455.28H98.52M96.85 456.82H98.52M99.48 453.3H102.52V457.7H99.48ZM99.48 455.5H102.52M101 453.96V457.04" stroke="#ececec" stroke-width="1.17" fill="none"/>
<path d="M168.6 428.92H167.55M168.6 430.5H167.55M168.07 428.12V433.14M167.02 428.12H165.1V430.5H167.02ZM167.13 431.82H165.1M167.13 433.14H165.1M166.08 430.5V433.14M173.2 429.44H169.7M171.28 427.86L173.02 433.14M171.45 429.71L169.7 433.14M172.5 431.29H170.4M174.65 428.65H177.45M174.3 430.08H177.8M175.35 428.65V430.08M176.75 428.65V430.08M174.65 431.03H177.45V433.14H174.65ZM178.9 429.44H182.4M180.82 427.86L179.08 433.14M180.65 429.71L182.4 433.14M179.6 431.29H181.7" stroke="#ececec" stroke-width="1.17" fill="none"/>
<path d="M123.2 439.28H126.7M124.95 438.86V440.97M123.73 440.97H126.17V444.14H123.73ZM123.73 442.56H126.17M127.8 440.44H131.3M129.72 438.86L127.98 444.14M129.55 440.71L131.3 444.14M128.5 442.29H130.6M132.4 439.39H135.9M132.58 439.39V444.14M133.45 440.97H135.55M133.45 442.56H135.55M134.5 440.18V444.14M132.75 444.14H135.9M137.35 439.92H140.15M138.75 438.86V444.14M138.58 441.24L137 443.61M138.92 441.24L140.5 443.61M137 441.76H140.5M145.1 439.39H141.6M144.92 439.39V444.14M144.05 440.97H141.95M144.05 442.56H141.95M143 440.18V444.14M144.75 444.14H141.6M146.55 439.65H149.35M146.2 441.08H149.7M147.25 439.65V441.08M148.65 439.65V441.08M146.55 442.03H149.35V444.14H146.55ZM150.8 439.92H151.85M150.8 441.5H151.85M151.33 439.12V444.14M152.38 439.12H154.3V441.5H152.38ZM152.27 442.82H154.3M152.27 444.14H154.3M153.32 441.5V444.14M158.48 438.86V444.14M158.9 440.71H157.85M158.9 442.56H157.85M157.5 439.39H155.4M156.45 439.39V444.14M157.32 441.24H155.4M157.32 443.08H155.4" stroke="#ececec" stroke-width="1.17" fill="none"/>
<path d="M188.2 439.65H191M187.85 441.08H191.35M188.9 439.65V441.08M190.3 439.65V441.08M188.2 442.03H191V444.14H188.2ZM192.45 439.39H195.95M192.63 439.39V444.14M193.5 440.97H195.6M193.5 442.56H195.6M194.55 440.18V444.14M192.8 444.14H195.95M197.47 438.86V444.14M197.05 440.71H198.1M197.05 442.56H198.1M198.45 439.39H200.55M199.5 439.39V444.14M198.63 441.24H200.55M198.63 443.08H200.55M201.65 439.92H202.7M201.65 441.5H202.7M202.18 439.12V444.14M203.23 439.12H205.15V441.5H203.23ZM203.12 442.82H205.15M203.12 444.14H205.15M204.17 441.5V444.14M206.6 439.92H209.4M208 438.86V444.14M207.83 441.24L206.25 443.61M208.17 441.24L209.75 443.61M206.25 441.76H209.75M214 439.65H211.2M214.35 441.08H210.85M213.3 439.65V441.08M211.9 439.65V441.08M214 442.03H211.2V444.14H214ZM218.53 438.86V444.14M218.95 440.71H217.9M218.95 442.56H217.9M217.55 439.39H215.45M216.5 439.39V444.14M217.37 441.24H215.45M217.37 443.08H215.45M220.05 438.86H223.55V444.14H220.05ZM220.05 441.5H223.55M221.8 439.65V443.35" stroke="#ececec" stroke-width="1.17" fill="none"/>
<path d="M112.32 451.86V457.14M111.9 453.71H112.95M111.9 455.56H112.95M113.3 452.39H115.4M114.35 452.39V457.14M113.48 454.24H115.4M113.48 456.08H115.4M120 453.44H116.5M118.08 451.86L119.82 457.14M118.25 453.71L116.5 457.14M119.3 455.29H117.2M124.25 452.65H121.45M124.6 454.08H121.1M123.55 452.65V454.08M122.15 452.65V454.08M124.25 455.03H121.45V457.14H124.25ZM126.05 452.92H128.85M127.45 451.86V457.14M127.28 454.24L125.7 456.61M127.62 454.24L129.2 456.61M125.7 454.76H129.2" stroke="#ececec" stroke-width="1.17" fill="none"/>
<path d="M116.5 460.36H120V465.64H116.5ZM116.5 463H120M118.25 461.15V464.85M121.1 460.78H124.6M122.85 460.36V462.47M121.63 462.47H124.07V465.64H121.63ZM121.63 464.06H124.07" stroke="#ececec" stroke-width="1.17" fill="none"/>
<path d="M135.6 452.39H139.1M135.78 452.39V457.14M136.65 453.97H138.75M136.65 455.56H138.75M137.7 453.18V457.14M135.95 457.14H139.1M143.7 452.39H140.2M143.52 452.39V457.14M142.65 453.97H140.55M142.65 455.56H140.55M141.6 453.18V457.14M143.35 457.14H140.2M147.95 452.65H145.15M148.3 454.08H144.8M147.25 452.65V454.08M145.85 452.65V454.08M147.95 455.03H145.15V457.14H147.95ZM152.48 451.86V457.14M152.9 453.71H151.85M152.9 455.56H151.85M151.5 452.39H149.4M150.45 452.39V457.14M151.32 454.24H149.4M151.32 456.08H149.4" stroke="#ececec" stroke-width="1.17" fill="none"/>
<path d="M140.2 461.94H143.7M142.12 460.36L140.38 465.64M141.95 462.21L143.7 465.64M140.9 463.79H143M145.22 460.36V465.64M144.8 462.21H145.85M144.8 464.06H145.85M146.2 460.89H148.3M147.25 460.89V465.64M146.38 462.74H148.3M146.38 464.58H148.3" stroke="#ececec" stroke-width="1.17" fill="none"/>
<path d="M164.2 452.39H160.7M164.02 452.39V457.14M163.15 453.97H161.05M163.15 455.56H161.05M162.1 453.18V457.14M163.85 457.14H160.7M165.3 451.86H168.8V457.14H165.3ZM165.3 454.5H168.8M167.05 452.65V456.35" stroke="#ececec" stroke-width="1.17" fill="none"/>
<path d="M160.7 460.89H164.2M160.88 460.89V465.64M161.75 462.47H163.85M161.75 464.06H163.85M162.8 461.68V465.64M161.05 465.64H164.2M165.3 460.89H168.8M165.48 460.89V465.64M166.35 462.47H168.45M166.35 464.06H168.45M167.4 461.68V465.64M165.65 465.64H168.8" stroke="#ececec" stroke-width="1.17" fill="none"/>
<path d="M175.95 452.92H177M175.95 454.5H177M176.48 452.12V457.14M177.53 452.12H179.45V454.5H177.53ZM177.42 455.82H179.45M177.42 457.14H179.45M178.47 454.5V457.14M180.55 452.92H181.6M180.55 454.5H181.6M181.08 452.12V457.14M182.13 452.12H184.05V454.5H182.13ZM182.02 455.82H184.05M182.02 457.14H184.05M183.07 454.5V457.14M188.23 451.86V457.14M188.65 453.71H187.6M188.65 455.56H187.6M187.25 452.39H185.15M186.2 452.39V457.14M187.07 454.24H185.15M187.07 456.08H185.15M192.9 452.65H190.1M193.25 454.08H189.75M192.2 452.65V454.08M190.8 452.65V454.08M192.9 455.03H190.1V457.14H192.9Z" stroke="#ececec" stroke-width="1.17" fill="none"/>
<path d="M183.7 461.42H180.9M182.3 460.36V465.64M182.47 462.74L184.05 465.11M182.13 462.74L180.55 465.11M184.05 463.26H180.55M185.5 461.15H188.3M185.15 462.58H188.65M186.2 461.15V462.58M187.6 461.15V462.58M185.5 463.53H188.3V465.64H185.5Z" stroke="#ececec" stroke-width="1.17" fill="none"/>
<path d="M203.25 452.92H202.2M203.25 454.5H202.2M202.72 452.12V457.14M201.67 452.12H199.75V454.5H201.67ZM201.78 455.82H199.75M201.78 457.14H199.75M200.73 454.5V457.14M204.7 452.65H207.5M204.35 454.08H207.85M205.4 452.65V454.08M206.8 452.65V454.08M204.7 455.03H207.5V457.14H204.7ZM208.95 453.44H212.45M210.87 451.86L209.13 457.14M210.7 453.71L212.45 457.14M209.65 455.29H211.75M216.7 452.92H213.9M215.3 451.86V457.14M215.47 454.24L217.05 456.61M215.13 454.24L213.55 456.61M217.05 454.76H213.55" stroke="#ececec" stroke-width="1.17" fill="none"/>
<path d="M204.7 461.15H207.5M204.35 462.58H207.85M205.4 461.15V462.58M206.8 461.15V462.58M204.7 463.53H207.5V465.64H204.7ZM209.3 461.15H212.1M208.95 462.58H212.45M210 461.15V462.58M211.4 461.15V462.58M209.3 463.53H212.1V465.64H209.3Z" stroke="#ececec" stroke-width="1.17" fill="none"/>
<path d="M225.87 451.86V457.14M225.45 453.71H226.5M225.45 455.56H226.5M226.85 452.39H228.95M227.9 452.39V457.14M227.03 454.24H228.95M227.03 456.08H228.95M230.4 452.92H233.2M231.8 451.86V457.14M231.63 454.24L230.05 456.61M231.97 454.24L233.55 456.61M230.05 454.76H233.55" stroke="#ececec" stroke-width="1.17" fill="none"/>
<path d="M228.6 461.15H225.8M228.95 462.58H225.45M227.9 461.15V462.58M226.5 461.15V462.58M228.6 463.53H225.8V465.64H228.6ZM233.13 460.36V465.64M233.55 462.21H232.5M233.55 464.06H232.5M232.15 460.89H230.05M231.1 460.89V465.64M231.97 462.74H230.05M231.97 464.58H230.05" stroke="#ececec" stroke-width="1.17" fill="none"/>
<path d="M245.15 447.78H241.65M243.4 447.36V449.47M244.62 449.47H242.18V452.64H244.62ZM244.62 451.06H242.18M246.25 448.42H247.3M246.25 450H247.3M246.78 447.62V452.64M247.83 447.62H249.75V450H247.83ZM247.72 451.32H249.75M247.72 452.64H249.75M248.77 450V452.64M251.27 447.36V452.64M250.85 449.21H251.9M250.85 451.06H251.9M252.25 447.89H254.35M253.3 447.89V452.64M252.43 449.74H254.35M252.43 451.58H254.35M258.6 448.42H255.8M257.2 447.36V452.64M257.37 449.74L258.95 452.11M257.03 449.74L255.45 452.11M258.95 450.26H255.45M263.55 448.42H262.5M263.55 450H262.5M263.02 447.62V452.64M261.97 447.62H260.05V450H261.97ZM262.08 451.32H260.05M262.08 452.64H260.05M261.03 450V452.64" stroke="#ececec" stroke-width="1.17" fill="none"/>
<path d="M280.28 436.36V441.64M280.7 438.21H279.65M280.7 440.06H279.65M279.3 436.89H277.2M278.25 436.89V441.64M279.12 438.74H277.2M279.12 440.58H277.2M281.8 436.89H285.3M281.98 436.89V441.64M282.85 438.47H284.95M282.85 440.06H284.95M283.9 437.68V441.64M282.15 441.64H285.3" stroke="#ececec" stroke-width="1.17" fill="none"/>
<path d="M273.45 445.92H270.65M272.05 444.86V450.14M272.22 447.24L273.8 449.61M271.88 447.24L270.3 449.61M273.8 447.76H270.3M275.25 445.65H278.05M274.9 447.08H278.4M275.95 445.65V447.08M277.35 445.65V447.08M275.25 448.03H278.05V450.14H275.25ZM279.5 445.39H283M279.68 445.39V450.14M280.55 446.97H282.65M280.55 448.56H282.65M281.6 446.18V450.14M279.85 450.14H283M284.52 444.86V450.14M284.1 446.71H285.15M284.1 448.56H285.15M285.5 445.39H287.6M286.55 445.39V450.14M285.68 447.24H287.6M285.68 449.08H287.6M292.2 444.86H288.7V450.14H292.2ZM292.2 447.5H288.7M290.45 445.65V449.35" stroke="#ececec" stroke-width="1.17" fill="none"/>
<path d="M275.68 453.36V458.64M276.1 455.21H275.05M276.1 457.06H275.05M274.7 453.89H272.6M273.65 453.89V458.64M274.52 455.74H272.6M274.52 457.58H272.6M280.7 454.42H279.65M280.7 456H279.65M280.17 453.62V458.64M279.12 453.62H277.2V456H279.12ZM279.23 457.32H277.2M279.23 458.64H277.2M278.18 456V458.64M282.15 454.15H284.95M281.8 455.58H285.3M282.85 454.15V455.58M284.25 454.15V455.58M282.15 456.53H284.95V458.64H282.15ZM286.82 453.36V458.64M286.4 455.21H287.45M286.4 457.06H287.45M287.8 453.89H289.9M288.85 453.89V458.64M287.98 455.74H289.9M287.98 457.58H289.9" stroke="#ececec" stroke-width="1.17" fill="none"/>
<path d="M419.9 431.86H416.4V437.14H419.9ZM419.9 434.5H416.4M418.15 432.65V436.35M424.5 432.39H421M424.32 432.39V437.14M423.45 433.97H421.35M423.45 435.56H421.35M422.4 433.18V437.14M424.15 437.14H421M425.95 432.65H428.75M425.6 434.08H429.1M426.65 432.65V434.08M428.05 432.65V434.08M425.95 435.03H428.75V437.14H425.95ZM433.7 432.92H432.65M433.7 434.5H432.65M433.17 432.12V437.14M432.12 432.12H430.2V434.5H432.12ZM432.23 435.82H430.2M432.23 437.14H430.2M431.18 434.5V437.14M438.3 431.86H434.8V437.14H438.3ZM438.3 434.5H434.8M436.55 432.65V436.35" stroke="#ececec" stroke-width="1.17" fill="none"/>
<path d="M302.88 449.86V455.14M303.3 451.71H302.25M303.3 453.56H302.25M301.9 450.39H299.8M300.85 450.39V455.14M301.72 452.24H299.8M301.72 454.08H299.8M304.4 449.86H307.9V455.14H304.4ZM304.4 452.5H307.9M306.15 450.65V454.35M309.35 450.92H312.15M310.75 449.86V455.14M310.58 452.24L309 454.61M310.92 452.24L312.5 454.61M309 452.76H312.5M317.1 451.44H313.6M315.18 449.86L316.92 455.14M315.35 451.71L313.6 455.14M316.4 453.29H314.3M318.55 450.65H321.35M318.2 452.08H321.7M319.25 450.65V452.08M320.65 450.65V452.08M318.55 453.03H321.35V455.14H318.55Z" stroke="#ececec" stroke-width="1.17" fill="none"/>
<path d="M306.7 458.89H310.2M306.88 458.89V463.64M307.75 460.47H309.85M307.75 462.06H309.85M308.8 459.68V463.64M307.05 463.64H310.2M311.65 459.42H314.45M313.05 458.36V463.64M312.88 460.74L311.3 463.11M313.22 460.74L314.8 463.11M311.3 461.26H314.8" stroke="#ececec" stroke-width="1.17" fill="none"/>
<path d="M329.65 450.39H333.15M329.83 450.39V455.14M330.7 451.97H332.8M330.7 453.56H332.8M331.75 451.18V455.14M330 455.14H333.15M334.25 450.28H337.75M336 449.86V451.97M334.78 451.97H337.22V455.14H334.78ZM334.78 453.56H337.22M338.85 450.92H339.9M338.85 452.5H339.9M339.38 450.12V455.14M340.43 450.12H342.35V452.5H340.43ZM340.32 453.82H342.35M340.32 455.14H342.35M341.37 452.5V455.14M343.8 450.65H346.6M343.45 452.08H346.95M344.5 450.65V452.08M345.9 450.65V452.08M343.8 453.03H346.6V455.14H343.8ZM348.4 450.92H351.2M349.8 449.86V455.14M349.63 452.24L348.05 454.61M349.97 452.24L351.55 454.61M348.05 452.76H351.55" stroke="#ececec" stroke-width="1.17" fill="none"/>
<path d="M339.7 459.15H336.9M340.05 460.58H336.55M339 459.15V460.58M337.6 459.15V460.58M339.7 461.53H336.9V463.64H339.7ZM344.65 459.42H343.6M344.65 461H343.6M344.12 458.62V463.64M343.07 458.62H341.15V461H343.07ZM343.18 462.32H341.15M343.18 463.64H341.15M342.13 461V463.64" stroke="#ececec" stroke-width="1.17" fill="none"/>
<path d="M364 450.92H366.8M365.4 449.86V455.14M365.23 452.24L363.65 454.61M365.57 452.24L367.15 454.61M363.65 452.76H367.15M371.75 449.86H368.25V455.14H371.75ZM371.75 452.5H368.25M370 450.65V454.35M373.27 449.86V455.14M372.85 451.71H373.9M372.85 453.56H373.9M374.25 450.39H376.35M375.3 450.39V455.14M374.43 452.24H376.35M374.43 454.08H376.35" stroke="#ececec" stroke-width="1.17" fill="none"/>
<path d="M369.03 458.36V463.64M369.45 460.21H368.4M369.45 462.06H368.4M368.05 458.89H365.95M367 458.89V463.64M367.87 460.74H365.95M367.87 462.58H365.95M370.55 458.89H374.05M370.73 458.89V463.64M371.6 460.47H373.7M371.6 462.06H373.7M372.65 459.68V463.64M370.9 463.64H374.05" stroke="#ececec" stroke-width="1.17" fill="none"/>
<path d="M392.75 450.28H396.25M394.5 449.86V451.97M393.28 451.97H395.72V455.14H393.28ZM393.28 453.56H395.72M400.5 450.92H397.7M399.1 449.86V455.14M399.27 452.24L400.85 454.61M398.93 452.24L397.35 454.61M400.85 452.76H397.35M402.37 449.86V455.14M401.95 451.71H403M401.95 453.56H403M403.35 450.39H405.45M404.4 450.39V455.14M403.53 452.24H405.45M403.53 454.08H405.45" stroke="#ececec" stroke-width="1.17" fill="none"/>
<path d="M395.05 458.89H398.55M395.23 458.89V463.64M396.1 460.47H398.2M396.1 462.06H398.2M397.15 459.68V463.64M395.4 463.64H398.55M400.07 458.36V463.64M399.65 460.21H400.7M399.65 462.06H400.7M401.05 458.89H403.15M402.1 458.89V463.64M401.23 460.74H403.15M401.23 462.58H403.15" stroke="#ececec" stroke-width="1.17" fill="none"/>
<path d="M419.8 450.92H422.6M421.2 449.86V455.14M421.03 452.24L419.45 454.61M421.37 452.24L422.95 454.61M419.45 452.76H422.95M424.05 450.28H427.55M425.8 449.86V451.97M424.58 451.97H427.02V455.14H424.58ZM424.58 453.56H427.02M428.65 449.86H432.15V455.14H428.65ZM428.65 452.5H432.15M430.4 450.65V454.35M436.4 450.65H433.6M436.75 452.08H433.25M435.7 450.65V452.08M434.3 450.65V452.08M436.4 453.03H433.6V455.14H436.4Z" stroke="#ececec" stroke-width="1.17" fill="none"/>
<path d="M424.47 458.36V463.64M424.05 460.21H425.1M424.05 462.06H425.1M425.45 458.89H427.55M426.5 458.89V463.64M425.63 460.74H427.55M425.63 462.58H427.55M432.15 458.89H428.65M431.97 458.89V463.64M431.1 460.47H429M431.1 462.06H429M430.05 459.68V463.64M431.8 463.64H428.65" stroke="#ececec" stroke-width="1.17" fill="none"/>
<path d="M456.85 451.44H453.35M454.93 449.86L456.67 455.14M455.1 451.71L453.35 455.14M456.15 453.29H454.05M458.3 450.65H461.1M457.95 452.08H461.45M459 450.65V452.08M460.4 450.65V452.08M458.3 453.03H461.1V455.14H458.3Z" stroke="#ececec" stroke-width="1.17" fill="none"/>
<path d="M453.35 459.42H454.4M453.35 461H454.4M453.88 458.62V463.64M454.93 458.62H456.85V461H454.93ZM454.82 462.32H456.85M454.82 463.64H456.85M455.87 461V463.64M458.3 459.15H461.1M457.95 460.58H461.45M459 459.15V460.58M460.4 459.15V460.58M458.3 461.53H461.1V463.64H458.3Z" stroke="#ececec" stroke-width="1.17" fill="none"/>
<path d="M481.75 450.92H480.7M481.75 452.5H480.7M481.22 450.12V455.14M480.17 450.12H478.25V452.5H480.17ZM480.28 453.82H478.25M480.28 455.14H478.25M479.23 452.5V455.14M482.85 450.92H483.9M482.85 452.5H483.9M483.38 450.12V455.14M484.43 450.12H486.35V452.5H484.43ZM484.32 453.82H486.35M484.32 455.14H486.35M485.37 452.5V455.14M490.53 449.86V455.14M490.95 451.71H489.9M490.95 453.56H489.9M489.55 450.39H487.45M488.5 450.39V455.14M489.37 452.24H487.45M489.37 454.08H487.45M492.4 450.92H495.2M493.8 449.86V455.14M493.63 452.24L492.05 454.61M493.97 452.24L495.55 454.61M492.05 452.76H495.55" stroke="#ececec" stroke-width="1.17" fill="none"/>
<path d="M482.85 459.42H483.9M482.85 461H483.9M483.38 458.62V463.64M484.43 458.62H486.35V461H484.43ZM484.32 462.32H486.35M484.32 463.64H486.35M485.37 461V463.64M490.6 459.42H487.8M489.2 458.36V463.64M489.37 460.74L490.95 463.11M489.03 460.74L487.45 463.11M490.95 461.26H487.45" stroke="#ececec" stroke-width="1.17" fill="none"/>
<path d="M509.75 450.39H513.25M509.93 450.39V455.14M510.8 451.97H512.9M510.8 453.56H512.9M511.85 451.18V455.14M510.1 455.14H513.25M514.35 449.86H517.85V455.14H514.35ZM514.35 452.5H517.85M516.1 450.65V454.35M522.45 449.86H518.95V455.14H522.45ZM522.45 452.5H518.95M520.7 450.65V454.35" stroke="#ececec" stroke-width="1.17" fill="none"/>
<path d="M512.05 459.42H513.1M512.05 461H513.1M512.58 458.62V463.64M513.63 458.62H515.55V461H513.63ZM513.52 462.32H515.55M513.52 463.64H515.55M514.57 461V463.64M520.15 459.42H519.1M520.15 461H519.1M519.62 458.62V463.64M518.57 458.62H516.65V461H518.57ZM518.68 462.32H516.65M518.68 463.64H516.65M517.63 461V463.64" stroke="#ececec" stroke-width="1.17" fill="none"/>
<path d="M538.87 449.86V455.14M538.45 451.71H539.5M538.45 453.56H539.5M539.85 450.39H541.95M540.9 450.39V455.14M540.03 452.24H541.95M540.03 454.08H541.95M546.55 451.44H543.05M544.63 449.86L546.37 455.14M544.8 451.71L543.05 455.14M545.85 453.29H543.75M551.15 449.86H547.65V455.14H551.15ZM551.15 452.5H547.65M549.4 450.65V454.35" stroke="#ececec" stroke-width="1.17" fill="none"/>
<path d="M540.75 459.94H544.25M542.67 458.36L540.93 463.64M542.5 460.21L544.25 463.64M541.45 461.79H543.55M545.35 459.94H548.85M547.27 458.36L545.53 463.64M547.1 460.21L548.85 463.64M546.05 461.79H548.15" stroke="#ececec" stroke-width="1.17" fill="none"/>
<path d="M57.17 470.04V474.96M57.44 471.76H56.76M57.44 473.49H56.76M56.53 470.53H55.16M55.84 470.53V474.96M56.41 472.25H55.16M56.41 473.98H55.16M58.39 471.02H60.21M59.3 470.04V474.96M59.19 472.25L58.16 474.47M59.41 472.25L60.44 474.47M58.16 472.75H60.44M63.21 470.78H61.39M63.44 472.11H61.16M62.76 470.78V472.11M61.84 470.78V472.11M63.21 472.99H61.39V474.96H63.21ZM64.16 470.04H66.44V474.96H64.16ZM64.16 472.5H66.44M65.3 470.78V474.22" stroke="#ececec" stroke-width="1.17" fill="none"/>
<path d="M75.96 471.51H78.24M77.21 470.04L76.07 474.96M77.1 471.76L78.24 474.96M76.42 473.24H77.78M81.01 470.78H79.19M81.24 472.11H78.96M80.56 470.78V472.11M79.64 470.78V472.11M81.01 472.99H79.19V474.96H81.01ZM82.19 471.02H84.01M83.1 470.04V474.96M82.99 472.25L81.96 474.47M83.21 472.25L84.24 474.47M81.96 472.75H84.24" stroke="#ececec" stroke-width="1.17" fill="none"/>
<path d="M95.21 471.51H97.49M96.46 470.04L95.32 474.96M96.35 471.76L97.49 474.96M95.67 473.24H97.03M98.48 470.04V474.96M98.21 471.76H98.89M98.21 473.49H98.89M99.12 470.53H100.49M99.81 470.53V474.96M99.24 472.25H100.49M99.24 473.98H100.49M101.44 471.02H103.26M102.35 470.04V474.96M102.24 472.25L101.21 474.47M102.46 472.25L103.49 474.47M101.21 472.75H103.49" stroke="#ececec" stroke-width="1.17" fill="none"/>
<path d="M117.19 471.02H116.51M117.19 472.5H116.51M116.85 470.28V474.96M116.16 470.28H114.91V472.5H116.16ZM116.23 473.73H114.91M116.23 474.96H114.91M115.55 472.5V474.96M118.14 470.78H119.96M117.91 472.11H120.19M118.59 470.78V472.11M119.51 470.78V472.11M118.14 472.99H119.96V474.96H118.14ZM121.14 470.78H122.96M120.91 472.11H123.19M121.59 470.78V472.11M122.51 470.78V472.11M121.14 472.99H122.96V474.96H121.14ZM126.19 470.43H123.91M125.05 470.04V472.01M125.85 472.01H124.25V474.96H125.85ZM125.85 473.49H124.25" stroke="#ececec" stroke-width="1.17" fill="none"/>
<path d="M138.84 470.78H140.66M138.61 472.11H140.89M139.29 470.78V472.11M140.21 470.78V472.11M138.84 472.99H140.66V474.96H138.84ZM141.61 471.02H142.29M141.61 472.5H142.29M141.95 470.28V474.96M142.64 470.28H143.89V472.5H142.64ZM142.57 473.73H143.89M142.57 474.96H143.89M143.25 472.5V474.96M146.89 470.53H144.61M146.78 470.53V474.96M146.21 472.01H144.84M146.21 473.49H144.84M145.52 471.27V474.96M146.66 474.96H144.61M147.84 471.02H149.66M148.75 470.04V474.96M148.64 472.25L147.61 474.47M148.86 472.25L149.89 474.47M147.61 472.75H149.89" stroke="#ececec" stroke-width="1.17" fill="none"/>
<path d="M160.61 470.04H162.89V474.96H160.61ZM160.61 472.5H162.89M161.75 470.78V474.22M165.66 470.78H163.84M165.89 472.11H163.61M165.21 470.78V472.11M164.29 470.78V472.11M165.66 472.99H163.84V474.96H165.66ZM166.61 470.04H168.89V474.96H166.61ZM166.61 472.5H168.89M167.75 470.78V474.22" stroke="#ececec" stroke-width="1.17" fill="none"/>
<path d="M181.24 471.02H180.56M181.24 472.5H180.56M180.9 470.28V474.96M180.21 470.28H178.96V472.5H180.21ZM180.28 473.73H178.96M180.28 474.96H178.96M179.6 472.5V474.96M184.24 470.04H181.96V474.96H184.24ZM184.24 472.5H181.96M183.1 470.78V474.22M187.24 470.43H184.96M186.1 470.04V472.01M186.9 472.01H185.3V474.96H186.9ZM186.9 473.49H185.3M187.96 470.43H190.24M189.1 470.04V472.01M188.3 472.01H189.9V474.96H188.3ZM188.3 473.49H189.9" stroke="#ececec" stroke-width="1.17" fill="none"/>
<path d="M205.04 471.51H202.76M203.79 470.04L204.93 474.96M203.9 471.76L202.76 474.96M204.58 473.24H203.22M205.76 471.51H208.04M207.01 470.04L205.87 474.96M206.9 471.76L208.04 474.96M206.22 473.24H207.58M208.76 471.02H209.44M208.76 472.5H209.44M209.1 470.28V474.96M209.79 470.28H211.04V472.5H209.79ZM209.72 473.73H211.04M209.72 474.96H211.04M210.4 472.5V474.96M213.81 470.78H211.99M214.04 472.11H211.76M213.36 470.78V472.11M212.44 470.78V472.11M213.81 472.99H211.99V474.96H213.81Z" stroke="#ececec" stroke-width="1.17" fill="none"/>
<path d="M225.36 470.53H227.64M225.47 470.53V474.96M226.04 472.01H227.41M226.04 473.49H227.41M226.73 471.27V474.96M225.59 474.96H227.64M230.64 471.02H229.96M230.64 472.5H229.96M230.3 470.28V474.96M229.61 470.28H228.36V472.5H229.61ZM229.68 473.73H228.36M229.68 474.96H228.36M229 472.5V474.96M231.36 470.53H233.64M231.47 470.53V474.96M232.04 472.01H233.41M232.04 473.49H233.41M232.73 471.27V474.96M231.59 474.96H233.64" stroke="#ececec" stroke-width="1.17" fill="none"/>
<path d="M278.61 471.51H280.89M279.86 470.04L278.72 474.96M279.75 471.76L280.89 474.96M279.07 473.24H280.43M281.61 471.02H282.29M281.61 472.5H282.29M281.95 470.28V474.96M282.64 470.28H283.89V472.5H282.64ZM282.57 473.73H283.89M282.57 474.96H283.89M283.25 472.5V474.96" stroke="#ececec" stroke-width="1.17" fill="none"/>
<path d="M308.11 470.43H310.39M309.25 470.04V472.01M308.45 472.01H310.05V474.96H308.45ZM308.45 473.49H310.05M313.39 470.04H311.11V474.96H313.39ZM313.39 472.5H311.11M312.25 470.78V474.22" stroke="#ececec" stroke-width="1.17" fill="none"/>
<path d="M336.46 470.53H338.74M336.57 470.53V474.96M337.14 472.01H338.51M337.14 473.49H338.51M337.83 471.27V474.96M336.69 474.96H338.74M339.69 471.02H341.51M340.6 470.04V474.96M340.49 472.25L339.46 474.47M340.71 472.25L341.74 474.47M339.46 472.75H341.74M344.74 471.51H342.46M343.49 470.04L344.63 474.96M343.6 471.76L342.46 474.96M344.28 473.24H342.92" stroke="#ececec" stroke-width="1.17" fill="none"/>
<path d="M367.36 471.02H368.04M367.36 472.5H368.04M367.7 470.28V474.96M368.39 470.28H369.64V472.5H368.39ZM368.32 473.73H369.64M368.32 474.96H369.64M369 472.5V474.96M372.64 470.53H370.36M372.53 470.53V474.96M371.96 472.01H370.59M371.96 473.49H370.59M371.27 471.27V474.96M372.41 474.96H370.36" stroke="#ececec" stroke-width="1.17" fill="none"/>
<path d="M396.69 470.78H398.51M396.46 472.11H398.74M397.14 470.78V472.11M398.06 470.78V472.11M396.69 472.99H398.51V474.96H396.69ZM399.69 471.02H401.51M400.6 470.04V474.96M400.49 472.25L399.46 474.47M400.71 472.25L401.74 474.47M399.46 472.75H401.74" stroke="#ececec" stroke-width="1.17" fill="none"/>
<path d="M427.74 470.04H425.46V474.96H427.74ZM427.74 472.5H425.46M426.6 470.78V474.22M428.46 470.04H430.74V474.96H428.46ZM428.46 472.5H430.74M429.6 470.78V474.22" stroke="#ececec" stroke-width="1.17" fill="none"/>
<path d="M454.04 470.04H451.76V474.96H454.04ZM454.04 472.5H451.76M452.9 470.78V474.22M457.04 470.53H454.76M456.93 470.53V474.96M456.36 472.01H454.99M456.36 473.49H454.99M455.67 471.27V474.96M456.81 474.96H454.76M457.76 471.02H458.44M457.76 472.5H458.44M458.1 470.28V474.96M458.79 470.28H460.04V472.5H458.79ZM458.72 473.73H460.04M458.72 474.96H460.04M459.4 472.5V474.96M460.76 470.53H463.04M460.87 470.53V474.96M461.44 472.01H462.81M461.44 473.49H462.81M462.13 471.27V474.96M460.99 474.96H463.04" stroke="#ececec" stroke-width="1.17" fill="none"/>
<path d="M482.76 470.53H485.04M482.87 470.53V474.96M483.44 472.01H484.81M483.44 473.49H484.81M484.13 471.27V474.96M482.99 474.96H485.04M485.76 470.53H488.04M485.87 470.53V474.96M486.44 472.01H487.81M486.44 473.49H487.81M487.13 471.27V474.96M485.99 474.96H488.04M489.03 470.04V474.96M488.76 471.76H489.44M488.76 473.49H489.44M489.67 470.53H491.04M490.36 470.53V474.96M489.79 472.25H491.04M489.79 473.98H491.04" stroke="#ececec" stroke-width="1.17" fill="none"/>
<path d="M512.19 470.78H514.01M511.96 472.11H514.24M512.64 470.78V472.11M513.56 470.78V472.11M512.19 472.99H514.01V474.96H512.19ZM517.01 471.02H515.19M516.1 470.04V474.96M516.21 472.25L517.24 474.47M515.99 472.25L514.96 474.47M517.24 472.75H514.96M517.96 471.51H520.24M519.21 470.04L518.07 474.96M519.1 471.76L520.24 474.96M518.42 473.24H519.78" stroke="#ececec" stroke-width="1.17" fill="none"/>
<path d="M540.89 470.78H542.71M540.66 472.11H542.94M541.34 470.78V472.11M542.26 470.78V472.11M540.89 472.99H542.71V474.96H540.89ZM545.71 471.02H543.89M544.8 470.04V474.96M544.91 472.25L545.94 474.47M544.69 472.25L543.66 474.47M545.94 472.75H543.66M546.89 470.78H548.71M546.66 472.11H548.94M547.34 470.78V472.11M548.26 470.78V472.11M546.89 472.99H548.71V474.96H546.89Z" stroke="#ececec" stroke-width="1.17" fill="none"/>
<path d="M243.42 468.86V474.14M243.81 470.71H242.83M243.81 472.56H242.83M242.5 469.39H240.52M241.51 469.39V474.14M242.33 471.24H240.52M242.33 473.08H240.52M248.15 468.86H244.85V474.14H248.15ZM248.15 471.5H244.85M246.5 469.65V473.35M252.15 469.92H249.52M250.83 468.86V474.14M251 471.24L252.48 473.61M250.67 471.24L249.19 473.61M252.48 471.76H249.19M253.85 469.92H256.48M255.17 468.86V474.14M255 471.24L253.52 473.61M255.33 471.24L256.81 473.61M253.52 471.76H256.81M261.15 469.92H260.16M261.15 471.5H260.16M260.65 469.12V474.14M259.66 469.12H257.85V471.5H259.66ZM259.76 472.82H257.85M259.76 474.14H257.85M258.78 471.5V474.14M265.48 470.44H262.19M263.67 468.86L265.32 474.14M263.83 470.71L262.19 474.14M264.82 472.29H262.85" stroke="#ececec" stroke-width="1.17" fill="none"/>
<path d="M570.34 406.65H566.16M570.13 406.65V412.83M569.09 408.71H566.58M569.09 410.77H566.58M567.83 407.68V412.83M569.92 412.83H566.16M575.42 407H572.08M575.84 408.85H571.66M574.59 407V408.85M572.91 407V408.85M575.42 410.09H572.08V412.83H575.42Z" stroke="#ececec" stroke-width="1.37" fill="none"/>
<rect x="577" y="408" width="1.2" height="1.2" fill="#ececec"/>
<rect x="577" y="411" width="1.2" height="1.2" fill="#ececec"/>
<path d="M580.13 416.34V422.76M579.64 418.59H580.87M579.64 420.83H580.87M581.27 416.98H583.72M582.49 416.98V422.76M581.48 419.23H583.72M581.48 421.48H583.72M588.67 417.62H585.41M587.04 416.34V422.76M587.24 419.23L589.08 422.12M586.84 419.23L585 422.12M589.08 419.87H585M594.03 417.3H590.77M594.44 419.04H590.36M593.21 417.3V419.04M591.59 417.3V419.04M594.03 420.19H590.77V422.76H594.03ZM599.8 416.85H595.72M597.76 416.34V418.91M599.19 418.91H596.33V422.76H599.19ZM599.19 420.83H596.33M605.16 416.98H601.08M604.95 416.98V422.76M603.93 418.91H601.49M603.93 420.83H601.49M602.71 417.94V422.76M604.75 422.76H601.08M610.11 417.3H606.85M610.52 419.04H606.44M609.29 417.3V419.04M607.67 417.3V419.04M610.11 420.19H606.85V422.76H610.11ZM611.8 418.27H615.88M614.04 416.34L612.01 422.76M613.84 418.59L615.88 422.76M612.62 420.51H615.06M617.57 417.3H620.83M617.16 419.04H621.24M618.39 417.3V419.04M620.01 417.3V419.04M617.57 420.19H620.83V422.76H617.57ZM626.6 416.34H622.52V422.76H626.6ZM626.6 419.55H622.52M624.56 417.3V421.8M627.88 416.34H631.96V422.76H627.88ZM627.88 419.55H631.96M629.92 417.3V421.8M633.24 416.85H637.32M635.28 416.34V418.91M633.85 418.91H636.71V422.76H633.85ZM633.85 420.83H636.71M638.6 418.27H642.68M640.84 416.34L638.81 422.76M640.64 418.59L642.68 422.76M639.42 420.51H641.86M643.96 416.34H648.04V422.76H643.96ZM643.96 419.55H648.04M646 417.3V421.8M652.91 416.34V422.76M653.4 418.59H652.17M653.4 420.83H652.17M651.77 416.98H649.32M650.55 416.98V422.76M651.56 419.23H649.32M651.56 421.48H649.32M654.68 417.62H655.91M654.68 419.55H655.91M655.29 416.66V422.76M656.52 416.66H658.76V419.55H656.52ZM656.39 421.16H658.76M656.39 422.76H658.76M657.62 419.55V422.76M660.04 417.62H661.27M660.04 419.55H661.27M660.65 416.66V422.76M661.88 416.66H664.12V419.55H661.88ZM661.75 421.16H664.12M661.75 422.76H664.12M662.98 419.55V422.76M669.48 416.34H665.4V422.76H669.48ZM669.48 419.55H665.4M667.44 417.3V421.8M671.17 417.62H674.43M672.8 416.34V422.76M672.6 419.23L670.76 422.12M673 419.23L674.84 422.12M670.76 419.87H674.84M679.79 417.62H676.53M678.16 416.34V422.76M678.36 419.23L680.2 422.12M677.96 419.23L676.12 422.12M680.2 419.87H676.12M685.15 417.62H681.89M683.52 416.34V422.76M683.72 419.23L685.56 422.12M683.32 419.23L681.48 422.12M685.56 419.87H681.48" stroke="#ececec" stroke-width="1.1" fill="none"/>
<path d="M583.44 427.5H580.08M583.86 429.24H579.66M582.6 427.5V429.24M580.92 427.5V429.24M583.44 430.39H580.08V432.96H583.44ZM589.37 427.05H585.18M587.28 426.54V429.11M588.74 429.11H585.81V432.96H588.74ZM588.74 431.03H585.81M590.7 427.05H594.89M592.79 426.54V429.11M591.33 429.11H594.26V432.96H591.33ZM591.33 431.03H594.26M596.21 427.05H600.41M598.31 426.54V429.11M596.84 429.11H599.78V432.96H596.84ZM596.84 431.03H599.78M601.73 426.54H605.92V432.96H601.73ZM601.73 429.75H605.92M603.83 427.5V432M607.67 427.5H611.02M607.25 429.24H611.44M608.51 427.5V429.24M610.18 427.5V429.24M607.67 430.39H611.02V432.96H607.67ZM616.96 426.54H612.77V432.96H616.96ZM616.96 429.75H612.77M614.86 427.5V432M618.28 428.47H622.48M620.59 426.54L618.49 432.96M620.38 428.79L622.48 432.96M619.12 430.71H621.64M623.8 427.05H627.99M625.9 426.54V429.11M624.43 429.11H627.37V432.96H624.43ZM624.43 431.03H627.37M629.32 426.54H633.51V432.96H629.32ZM629.32 429.75H633.51M631.42 427.5V432M639.03 427.18H634.84M638.82 427.18V432.96M637.77 429.11H635.26M637.77 431.03H635.26M636.51 428.14V432.96M638.61 432.96H634.84M644.55 427.18H640.35M644.34 427.18V432.96M643.29 429.11H640.77M643.29 431.03H640.77M642.03 428.14V432.96M644.13 432.96H640.35M646.37 426.54V432.96M645.87 428.79H647.13M645.87 431.03H647.13M647.55 427.18H650.06M648.81 427.18V432.96M647.76 429.43H650.06M647.76 431.68H650.06M651.39 426.54H655.58V432.96H651.39ZM651.39 429.75H655.58M653.48 427.5V432M661.1 427.18H656.91M660.89 427.18V432.96M659.84 429.11H657.32M659.84 431.03H657.32M658.58 428.14V432.96M660.68 432.96H656.91M662.42 427.18H666.62M662.63 427.18V432.96M663.68 429.11H666.2M663.68 431.03H666.2M664.94 428.14V432.96M662.84 432.96H666.62M667.94 426.54H672.13V432.96H667.94ZM667.94 429.75H672.13M670.04 427.5V432M673.46 426.54H677.65V432.96H673.46ZM673.46 429.75H677.65M675.55 427.5V432M683.17 427.18H678.98M682.96 427.18V432.96M681.91 429.11H679.39M681.91 431.03H679.39M680.65 428.14V432.96M682.75 432.96H678.98M688.18 426.54V432.96M688.69 428.79H687.43M688.69 431.03H687.43M687.01 427.18H684.49M685.75 427.18V432.96M686.8 429.43H684.49M686.8 431.68H684.49M693.78 427.5H690.43M694.2 429.24H690.01M692.95 427.5V429.24M691.27 427.5V429.24M693.78 430.39H690.43V432.96H693.78ZM695.95 427.5H699.3M695.53 429.24H699.72M696.79 427.5V429.24M698.46 427.5V429.24M695.95 430.39H699.3V432.96H695.95ZM701.46 427.82H704.82M703.14 426.54V432.96M702.93 429.43L701.04 432.32M703.35 429.43L705.24 432.32M701.04 430.07H705.24" stroke="#ececec" stroke-width="1.1" fill="none"/>
<path d="M583.31 438.12H580.05M581.68 436.84V443.26M581.88 439.73L583.71 442.62M581.47 439.73L579.64 442.62M583.71 440.37H579.64M589.07 438.12H587.85M589.07 440.05H587.85M588.46 437.16V443.26M587.24 437.16H585V440.05H587.24ZM587.36 441.66H585M587.36 443.26H585M586.14 440.05V443.26M590.35 437.48H594.42M590.56 437.48V443.26M591.57 439.41H594.02M591.57 441.33H594.02M592.8 438.44V443.26M590.76 443.26H594.42M595.71 438.77H599.78M597.95 436.84L595.91 443.26M597.74 439.09L599.78 443.26M596.52 441.01H598.97M601.47 438.12H604.73M603.1 436.84V443.26M602.9 439.73L601.06 442.62M603.3 439.73L605.14 442.62M601.06 440.37H605.14M606.42 437.48H610.49M606.62 437.48V443.26M607.64 439.41H610.08M607.64 441.33H610.08M608.86 438.44V443.26M606.83 443.26H610.49M611.78 437.48H615.85M611.98 437.48V443.26M613 439.41H615.44M613 441.33H615.44M614.22 438.44V443.26M612.18 443.26H615.85M621.2 438.12H619.98M621.2 440.05H619.98M620.59 437.16V443.26M619.37 437.16H617.13V440.05H619.37ZM619.49 441.66H617.13M619.49 443.26H617.13M618.27 440.05V443.26M626.56 437.48H622.49M626.35 437.48V443.26M625.34 439.41H622.89M625.34 441.33H622.89M624.12 438.44V443.26M626.15 443.26H622.49M628.33 436.84V443.26M627.84 439.09H629.06M627.84 441.33H629.06M629.47 437.48H631.91M630.69 437.48V443.26M629.67 439.73H631.91M629.67 441.98H631.91M633.2 437.35H637.27M635.23 436.84V439.41M633.81 439.41H636.66V443.26H633.81ZM633.81 441.33H636.66M642.62 438.12H641.4M642.62 440.05H641.4M642.01 437.16V443.26M640.79 437.16H638.55V440.05H640.79ZM640.91 441.66H638.55M640.91 443.26H638.55M639.69 440.05V443.26M643.91 438.77H647.98M646.15 436.84L644.11 443.26M645.94 439.09L647.98 443.26M644.72 441.01H647.17M653.34 437.48H649.26M653.13 437.48V443.26M652.11 439.41H649.67M652.11 441.33H649.67M650.89 438.44V443.26M652.93 443.26H649.26M658.69 438.77H654.62M656.45 436.84L658.49 443.26M656.66 439.09L654.62 443.26M657.88 441.01H655.43M660.38 437.8H663.64M659.98 439.54H664.05M661.2 437.8V439.54M662.83 437.8V439.54M660.38 440.69H663.64V443.26H660.38ZM665.74 438.12H668.99M667.37 436.84V443.26M667.16 439.73L665.33 442.62M667.57 439.73L669.4 442.62M665.33 440.37H669.4M674.27 436.84V443.26M674.76 439.09H673.54M674.76 441.33H673.54M673.13 437.48H670.69M671.91 437.48V443.26M672.93 439.73H670.69M672.93 441.98H670.69M679.71 437.8H676.45M680.11 439.54H676.04M678.89 437.8V439.54M677.26 437.8V439.54M679.71 440.69H676.45V443.26H679.71ZM681.4 437.48H685.47M681.6 437.48V443.26M682.62 439.41H685.06M682.62 441.33H685.06M683.84 438.44V443.26M681.81 443.26H685.47M686.75 436.84H690.82V443.26H686.75ZM686.75 440.05H690.82M688.79 437.8V442.3M692.11 436.84H696.18V443.26H692.11ZM692.11 440.05H696.18M694.14 437.8V442.3M701.54 437.35H697.46M699.5 436.84V439.41M700.92 439.41H698.08V443.26H700.92ZM700.92 441.33H698.08M703.23 438.12H706.48M704.86 436.84V443.26M704.65 439.73L702.82 442.62M705.06 439.73L706.89 442.62M702.82 440.37H706.89M711.76 436.84V443.26M712.25 439.09H711.03M712.25 441.33H711.03M710.62 437.48H708.18M709.4 437.48V443.26M710.41 439.73H708.18M710.41 441.98H708.18M713.53 437.48H717.6M713.74 437.48V443.26M714.75 439.41H717.19M714.75 441.33H717.19M715.97 438.44V443.26M713.94 443.26H717.6M719.29 437.8H722.55M718.89 439.54H722.96M720.11 437.8V439.54M721.74 437.8V439.54M719.29 440.69H722.55V443.26H719.29ZM724.65 437.8H727.91M724.24 439.54H728.31M725.46 437.8V439.54M727.09 437.8V439.54M724.65 440.69H727.91V443.26H724.65ZM730.01 437.8H733.26M729.6 439.54H733.67M730.82 437.8V439.54M732.45 437.8V439.54M730.01 440.69H733.26V443.26H730.01ZM738.54 436.84V443.26M739.02 439.09H737.8M739.02 441.33H737.8M737.4 437.48H734.95M736.17 437.48V443.26M737.19 439.73H734.95M737.19 441.98H734.95M740.31 436.84H744.38V443.26H740.31ZM740.31 440.05H744.38M742.34 437.8V442.3M746.15 436.84V443.26M745.66 439.09H746.89M745.66 441.33H746.89M747.29 437.48H749.74M748.51 437.48V443.26M747.5 439.73H749.74M747.5 441.98H749.74M755.09 438.77H751.02M752.85 436.84L754.89 443.26M753.06 439.09L751.02 443.26M754.28 441.01H751.83M760.04 437.8H756.78M760.45 439.54H756.38M759.23 437.8V439.54M757.6 437.8V439.54M760.04 440.69H756.78V443.26H760.04ZM765.8 438.12H764.58M765.8 440.05H764.58M765.19 437.16V443.26M763.97 437.16H761.73V440.05H763.97ZM764.09 441.66H761.73M764.09 443.26H761.73M762.87 440.05V443.26M770.67 436.84V443.26M771.16 439.09H769.94M771.16 441.33H769.94M769.53 437.48H767.09M768.31 437.48V443.26M769.33 439.73H767.09M769.33 441.98H767.09" stroke="#ececec" stroke-width="1.1" fill="none"/>
<path d="M579.64 449.17H583.67M581.85 447.24L579.84 453.66M581.65 449.49L583.67 453.66M580.44 451.41H582.86M588.97 447.88H584.94M588.77 447.88V453.66M587.76 449.81H585.34M587.76 451.73H585.34M586.55 448.84V453.66M588.57 453.66H584.94M590.65 448.2H593.87M590.25 449.94H594.28M591.46 448.2V449.94M593.07 448.2V449.94M590.65 451.09H593.87V453.66H590.65ZM599.58 449.17H595.55M597.37 447.24L599.38 453.66M597.57 449.49L595.55 453.66M598.78 451.41H596.36M604.4 447.24V453.66M604.89 449.49H603.68M604.89 451.73H603.68M603.27 447.88H600.86M602.07 447.88V453.66M603.07 450.13H600.86M603.07 452.38H600.86M609.79 448.2H606.56M610.19 449.94H606.16M608.98 448.2V449.94M607.37 448.2V449.94M609.79 451.09H606.56V453.66H609.79ZM611.87 448.2H615.09M611.47 449.94H615.5M612.67 448.2V449.94M614.29 448.2V449.94M611.87 451.09H615.09V453.66H611.87ZM620.8 448.52H619.59M620.8 450.45H619.59M620.2 447.56V453.66M618.99 447.56H616.77V450.45H618.99ZM619.11 452.06H616.77M619.11 453.66H616.77M617.9 450.45V453.66M626.11 447.88H622.07M625.9 447.88V453.66M624.9 449.81H622.48M624.9 451.73H622.48M623.69 448.84V453.66M625.7 453.66H622.07M627.78 448.52H631.01M629.4 447.24V453.66M629.19 450.13L627.38 453.02M629.6 450.13L631.41 453.02M627.38 450.77H631.41M633.09 448.52H636.31M634.7 447.24V453.66M634.5 450.13L632.68 453.02M634.9 450.13L636.72 453.02M632.68 450.77H636.72M641.62 448.2H638.39M642.02 449.94H637.99M640.81 448.2V449.94M639.2 448.2V449.94M641.62 451.09H638.39V453.66H641.62ZM643.7 448.52H646.92M645.31 447.24V453.66M645.11 450.13L643.29 453.02M645.51 450.13L647.33 453.02M643.29 450.77H647.33M648.6 448.52H649.81M648.6 450.45H649.81M649.2 447.56V453.66M650.41 447.56H652.63V450.45H650.41ZM650.29 452.06H652.63M650.29 453.66H652.63M651.5 450.45V453.66M657.45 447.24V453.66M657.93 449.49H656.73M657.93 451.73H656.73M656.32 447.88H653.9M655.11 447.88V453.66M656.12 450.13H653.9M656.12 452.38H653.9M659.21 448.52H660.42M659.21 450.45H660.42M659.81 447.56V453.66M661.02 447.56H663.24V450.45H661.02ZM660.9 452.06H663.24M660.9 453.66H663.24M662.11 450.45V453.66M664.92 448.52H668.14M666.53 447.24V453.66M666.33 450.13L664.51 453.02M666.73 450.13L668.54 453.02M664.51 450.77H668.54M673.85 447.88H669.82M673.65 447.88V453.66M672.64 449.81H670.22M672.64 451.73H670.22M671.43 448.84V453.66M673.45 453.66H669.82M679.15 447.88H675.12M678.95 447.88V453.66M677.94 449.81H675.53M677.94 451.73H675.53M676.73 448.84V453.66M678.75 453.66H675.12M680.91 447.24V453.66M680.43 449.49H681.64M680.43 451.73H681.64M682.04 447.88H684.46M683.25 447.88V453.66M682.24 450.13H684.46M682.24 452.38H684.46M689.28 447.24V453.66M689.76 449.49H688.55M689.76 451.73H688.55M688.15 447.88H685.73M686.94 447.88V453.66M687.95 450.13H685.73M687.95 452.38H685.73" stroke="#ececec" stroke-width="1.1" fill="none"/>
<path d="M580.06 460H583.34M579.65 461.74H583.75M580.88 460V461.74M582.52 460V461.74M580.06 462.89H583.34V465.46H580.06ZM585.45 460H588.73M585.04 461.74H589.14M586.27 460V461.74M587.91 460V461.74M585.45 462.89H588.73V465.46H585.45ZM590.85 460.32H594.13M592.49 459.04V465.46M592.28 461.93L590.44 464.82M592.69 461.93L594.54 464.82M590.44 462.57H594.54M595.83 459.55H599.93M597.88 459.04V461.61M596.45 461.61H599.32V465.46H596.45ZM596.45 463.53H599.32M601.72 459.04V465.46M601.23 461.29H602.46M601.23 463.53H602.46M602.87 459.68H605.32M604.09 459.68V465.46M603.07 461.93H605.32M603.07 464.18H605.32M606.62 459.55H610.72M608.67 459.04V461.61M607.23 461.61H610.1V465.46H607.23ZM607.23 463.53H610.1M612.01 460.97H616.11M614.27 459.04L612.22 465.46M614.06 461.29L616.11 465.46M612.83 463.21H615.29M617.41 459.68H621.51M617.61 459.68V465.46M618.64 461.61H621.1M618.64 463.53H621.1M619.87 460.64V465.46M617.82 465.46H621.51M622.8 460.97H626.9M625.06 459.04L623.01 465.46M624.85 461.29L626.9 465.46M623.62 463.21H626.08M628.69 459.04V465.46M628.2 461.29H629.43M628.2 463.53H629.43M629.84 459.68H632.3M631.07 459.68V465.46M630.04 461.93H632.3M630.04 464.18H632.3M633.59 460.97H637.69M635.85 459.04L633.8 465.46M635.64 461.29L637.69 465.46M634.41 463.21H636.87M639.48 459.04V465.46M638.99 461.29H640.22M638.99 463.53H640.22M640.63 459.68H643.09M641.86 459.68V465.46M640.83 461.93H643.09M640.83 464.18H643.09M644.38 459.68H648.48M644.59 459.68V465.46M645.61 461.61H648.07M645.61 463.53H648.07M646.84 460.64V465.46M644.79 465.46H648.48M649.78 460.97H653.87M652.03 459.04L649.98 465.46M651.82 461.29L653.87 465.46M650.6 463.21H653.05M659.27 460.97H655.17M657.01 459.04L659.06 465.46M657.22 461.29L655.17 465.46M658.45 463.21H655.99M664.66 459.04H660.56V465.46H664.66ZM664.66 462.25H660.56M662.61 460V464.5M669.65 460H666.37M670.06 461.74H665.96M668.83 460V461.74M667.19 460V461.74M669.65 462.89H666.37V465.46H669.65ZM675.45 459.04H671.35V465.46H675.45ZM675.45 462.25H671.35M673.4 460V464.5M676.75 459.04H680.85V465.46H676.75ZM676.75 462.25H680.85M678.8 460V464.5M686.24 459.68H682.14M686.04 459.68V465.46M685.01 461.61H682.55M685.01 463.53H682.55M683.78 460.64V465.46M685.83 465.46H682.14M688.03 459.04V465.46M687.54 461.29H688.77M687.54 463.53H688.77M689.18 459.68H691.64M690.41 459.68V465.46M689.38 461.93H691.64M689.38 464.18H691.64M693.42 459.04V465.46M692.93 461.29H694.16M692.93 463.53H694.16M694.57 459.68H697.03M695.8 459.68V465.46M694.78 461.93H697.03M694.78 464.18H697.03M702.01 460H698.74M702.42 461.74H698.33M701.19 460V461.74M699.56 460V461.74M702.01 462.89H698.74V465.46H702.01ZM707.82 459.04H703.72V465.46H707.82ZM707.82 462.25H703.72M705.77 460V464.5M712.72 459.04V465.46M713.21 461.29H711.98M713.21 463.53H711.98M711.57 459.68H709.11M710.34 459.68V465.46M711.37 461.93H709.11M711.37 464.18H709.11M714.51 459.04H718.61V465.46H714.51ZM714.51 462.25H718.61M716.56 460V464.5M724 459.04H719.9V465.46H724ZM724 462.25H719.9M721.95 460V464.5M725.79 459.04V465.46M725.3 461.29H726.53M725.3 463.53H726.53M726.94 459.68H729.4M728.17 459.68V465.46M727.14 461.93H729.4M727.14 464.18H729.4M731.1 460.32H734.38M732.74 459.04V465.46M732.54 461.93L730.69 464.82M732.95 461.93L734.79 464.82M730.69 462.57H734.79M740.19 460.97H736.09M737.93 459.04L739.98 465.46M738.14 461.29L736.09 465.46M739.37 463.21H736.91M741.48 459.68H745.58M741.69 459.68V465.46M742.71 461.61H745.17M742.71 463.53H745.17M743.94 460.64V465.46M741.89 465.46H745.58M746.88 459.04H750.97V465.46H746.88ZM746.88 462.25H750.97M748.93 460V464.5M752.27 459.68H756.37M752.47 459.68V465.46M753.5 461.61H755.96M753.5 463.53H755.96M754.73 460.64V465.46M752.68 465.46H756.37M761.76 459.04H757.66V465.46H761.76ZM761.76 462.25H757.66M759.71 460V464.5M763.06 459.04H767.16V465.46H763.06ZM763.06 462.25H767.16M765.11 460V464.5M772.14 460.32H768.86M770.5 459.04V465.46M770.71 461.93L772.55 464.82M770.3 461.93L768.45 464.82M772.55 462.57H768.45" stroke="#ececec" stroke-width="1.1" fill="none"/>
<path d="M589.26 470.55H585.24M587.25 470.04V472.61M588.66 472.61H585.84V476.46H588.66ZM588.66 474.53H585.84M590.54 471.97H594.56M592.75 470.04L590.74 476.46M592.55 472.29L594.56 476.46M591.34 474.21H593.76M596.24 471H599.46M595.84 472.74H599.86M597.04 471V472.74M598.66 471V472.74M596.24 473.89H599.46V476.46H596.24ZM601.54 471.32H604.76M603.15 470.04V476.46M602.95 472.93L601.14 475.82M603.35 472.93L605.16 475.82M601.14 473.57H605.16M606.92 470.04V476.46M606.44 472.29H607.64M606.44 474.53H607.64M608.05 470.68H610.46M609.26 470.68V476.46M608.25 472.93H610.46M608.25 475.18H610.46M615.76 470.55H611.74M613.75 470.04V472.61M615.16 472.61H612.34V476.46H615.16ZM615.16 474.53H612.34M617.52 470.04V476.46M617.04 472.29H618.24M617.04 474.53H618.24M618.65 470.68H621.06M619.86 470.68V476.46M618.85 472.93H621.06M618.85 475.18H621.06M622.34 470.04H626.36V476.46H622.34ZM622.34 473.25H626.36M624.35 471V475.5M631.66 471.32H630.46M631.66 473.25H630.46M631.06 470.36V476.46M629.85 470.36H627.64V473.25H629.85ZM629.97 474.86H627.64M629.97 476.46H627.64M628.76 473.25V476.46M632.94 471.97H636.96M635.15 470.04L633.14 476.46M634.95 472.29L636.96 476.46M633.74 474.21H636.16M638.24 471.32H639.44M638.24 473.25H639.44M638.84 470.36V476.46M640.05 470.36H642.26V473.25H640.05ZM639.93 474.86H642.26M639.93 476.46H642.26M641.14 473.25V476.46M643.54 470.04H647.56V476.46H643.54ZM643.54 473.25H647.56M645.55 471V475.5M649.24 471H652.46M648.84 472.74H652.86M650.04 471V472.74M651.66 471V472.74M649.24 473.89H652.46V476.46H649.24ZM654.14 470.68H658.16M654.34 470.68V476.46M655.34 472.61H657.76M655.34 474.53H657.76M656.55 471.64V476.46M654.54 476.46H658.16M659.84 471.32H663.06M661.45 470.04V476.46M661.25 472.93L659.44 475.82M661.65 472.93L663.46 475.82M659.44 473.57H663.46M665.22 470.04V476.46M664.74 472.29H665.94M664.74 474.53H665.94M666.35 470.68H668.76M667.56 470.68V476.46M666.55 472.93H668.76M666.55 475.18H668.76M673.66 471.32H670.44M672.05 470.04V476.46M672.25 472.93L674.06 475.82M671.85 472.93L670.04 475.82M674.06 473.57H670.04M679.36 471.32H678.16M679.36 473.25H678.16M678.76 470.36V476.46M677.55 470.36H675.34V473.25H677.55ZM677.67 474.86H675.34M677.67 476.46H675.34M676.46 473.25V476.46" stroke="#ececec" stroke-width="1.1" fill="none"/>
<path d="M583.68 481.45H579.64M581.66 480.94V483.51M583.08 483.51H580.25V487.36H583.08ZM583.08 485.43H580.25M584.96 482.22H586.17M584.96 484.15H586.17M585.57 481.26V487.36M586.78 481.26H589.01V484.15H586.78ZM586.66 485.76H589.01M586.66 487.36H589.01M587.87 484.15V487.36M590.28 482.22H591.5M590.28 484.15H591.5M590.89 481.26V487.36M592.1 481.26H594.33V484.15H592.1ZM591.98 485.76H594.33M591.98 487.36H594.33M593.2 484.15V487.36M596.01 482.22H599.25M597.63 480.94V487.36M597.43 483.83L595.61 486.72M597.83 483.83L599.65 486.72M595.61 484.47H599.65M600.93 480.94H604.97V487.36H600.93ZM600.93 484.15H604.97M602.95 481.9V486.4M610.29 482.22H609.08M610.29 484.15H609.08M609.69 481.26V487.36M608.47 481.26H606.25V484.15H608.47ZM608.6 485.76H606.25M608.6 487.36H606.25M607.38 484.15V487.36M615.21 481.9H611.98M615.62 483.64H611.57M614.4 481.9V483.64M612.79 481.9V483.64M615.21 484.79H611.98V487.36H615.21ZM616.89 480.94H620.94V487.36H616.89ZM616.89 484.15H620.94M618.92 481.9V486.4M626.26 481.45H622.22M624.24 480.94V483.51M625.65 483.51H622.82V487.36H625.65ZM625.65 485.43H622.82M627.94 482.22H631.18M629.56 480.94V487.36M629.36 483.83L627.54 486.72M629.76 483.83L631.58 486.72M627.54 484.47H631.58M632.86 482.87H636.91M635.09 480.94L633.06 487.36M634.88 483.19L636.91 487.36M633.67 485.11H636.1M642.23 480.94H638.18V487.36H642.23ZM642.23 484.15H638.18M640.21 481.9V486.4M643.51 482.22H644.72M643.51 484.15H644.72M644.11 481.26V487.36M645.33 481.26H647.55V484.15H645.33ZM645.2 485.76H647.55M645.2 487.36H647.55M646.42 484.15V487.36M648.83 481.58H652.87M649.03 481.58V487.36M650.04 483.51H652.47M650.04 485.43H652.47M651.25 482.54V487.36M649.23 487.36H652.87M654.55 482.22H657.79M656.17 480.94V487.36M655.97 483.83L654.15 486.72M656.37 483.83L658.19 486.72M654.15 484.47H658.19M659.47 480.94H663.52V487.36H659.47ZM659.47 484.15H663.52M661.49 481.9V486.4M665.2 481.9H668.43M664.79 483.64H668.84M666.01 481.9V483.64M667.63 481.9V483.64M665.2 484.79H668.43V487.36H665.2ZM670.6 480.94V487.36M670.12 483.19H671.33M670.12 485.43H671.33M671.73 481.58H674.16M672.95 481.58V487.36M671.94 483.83H674.16M671.94 486.08H674.16M675.44 482.87H679.48M677.66 480.94L675.64 487.36M677.46 483.19L679.48 487.36M676.25 485.11H678.67M684.81 481.58H680.76M684.6 481.58V487.36M683.59 483.51H681.17M683.59 485.43H681.17M682.38 482.54V487.36M684.4 487.36H680.76M686.08 480.94H690.13V487.36H686.08ZM686.08 484.15H690.13M688.11 481.9V486.4M695.45 481.58H691.41M695.25 481.58V487.36M694.24 483.51H691.81M694.24 485.43H691.81M693.02 482.54V487.36M695.05 487.36H691.41M696.73 482.87H700.77M698.95 480.94L696.93 487.36M698.75 483.19L700.77 487.36M697.54 485.11H699.96M702.45 481.9H705.69M702.05 483.64H706.09M703.26 481.9V483.64M704.88 481.9V483.64M702.45 484.79H705.69V487.36H702.45ZM710.93 480.94V487.36M711.42 483.19H710.2M711.42 485.43H710.2M709.8 481.58H707.37M708.59 481.58V487.36M709.6 483.83H707.37M709.6 486.08H707.37M712.69 481.45H716.74M714.72 480.94V483.51M713.3 483.51H716.13V487.36H713.3ZM713.3 485.43H716.13M722.06 482.22H720.85M722.06 484.15H720.85M721.45 481.26V487.36M720.24 481.26H718.02V484.15H720.24ZM720.36 485.76H718.02M720.36 487.36H718.02M719.15 484.15V487.36" stroke="#ececec" stroke-width="1.1" fill="none"/>
<path d="M579.64 493.42H580.86M579.64 495.35H580.86M580.25 492.46V498.56M581.47 492.46H583.7V495.35H581.47ZM581.35 496.96H583.7M581.35 498.56H583.7M582.57 495.35V498.56M584.99 494.07H589.05M587.22 492.14L585.19 498.56M587.02 494.39L589.05 498.56M585.8 496.31H588.24M590.33 492.78H594.4M590.54 492.78V498.56M591.55 494.71H593.99M591.55 496.63H593.99M592.77 493.74V498.56M590.74 498.56H594.4M599.34 493.1H596.09M599.74 494.84H595.68M598.52 493.1V494.84M596.9 493.1V494.84M599.34 495.99H596.09V498.56H599.34ZM601.02 492.14H605.09V498.56H601.02ZM601.02 495.35H605.09M603.06 493.1V497.6M606.37 492.78H610.43M606.57 492.78V498.56M607.59 494.71H610.03M607.59 496.63H610.03M608.81 493.74V498.56M606.78 498.56H610.43M611.72 492.14H615.78V498.56H611.72ZM611.72 495.35H615.78M613.75 493.1V497.6M621.13 494.07H617.06M618.89 492.14L620.92 498.56M619.09 494.39L617.06 498.56M620.31 496.31H617.87M625.98 492.14V498.56M626.47 494.39H625.25M626.47 496.63H625.25M624.85 492.78H622.41M623.63 492.78V498.56M624.64 495.03H622.41M624.64 497.28H622.41M627.75 492.65H631.82M629.79 492.14V494.71M628.36 494.71H631.21V498.56H628.36ZM628.36 496.63H631.21M637.16 492.78H633.1M636.96 492.78V498.56M635.94 494.71H633.51M635.94 496.63H633.51M634.72 493.74V498.56M636.76 498.56H633.1M642.51 492.78H638.45M642.31 492.78V498.56M641.29 494.71H638.85M641.29 496.63H638.85M640.07 493.74V498.56M642.1 498.56H638.45M643.79 494.07H647.85M646.03 492.14L643.99 498.56M645.82 494.39L647.85 498.56M644.6 496.31H647.04M649.14 493.42H650.36M649.14 495.35H650.36M649.75 492.46V498.56M650.97 492.46H653.2V495.35H650.97ZM650.84 496.96H653.2M650.84 498.56H653.2M652.06 495.35V498.56M654.48 493.42H655.7M654.48 495.35H655.7M655.09 492.46V498.56M656.31 492.46H658.55V495.35H656.31ZM656.19 496.96H658.55M656.19 498.56H658.55M657.41 495.35V498.56M659.83 493.42H661.05M659.83 495.35H661.05M660.44 492.46V498.56M661.66 492.46H663.89V495.35H661.66ZM661.54 496.96H663.89M661.54 498.56H663.89M662.75 495.35V498.56M665.66 492.14V498.56M665.17 494.39H666.39M665.17 496.63H666.39M666.8 492.78H669.24M668.02 492.78V498.56M667 495.03H669.24M667 497.28H669.24M670.52 492.78H674.58M670.72 492.78V498.56M671.74 494.71H674.18M671.74 496.63H674.18M672.96 493.74V498.56M670.93 498.56H674.58M679.93 493.42H678.71M679.93 495.35H678.71M679.32 492.46V498.56M678.1 492.46H675.87V495.35H678.1ZM678.22 496.96H675.87M678.22 498.56H675.87M677 495.35V498.56M681.7 492.14V498.56M681.21 494.39H682.43M681.21 496.63H682.43M682.84 492.78H685.28M684.06 492.78V498.56M683.04 495.03H685.28M683.04 497.28H685.28M686.56 492.78H690.62M686.76 492.78V498.56M687.78 494.71H690.21M687.78 496.63H690.21M689 493.74V498.56M686.96 498.56H690.62M691.9 492.78H695.97M692.11 492.78V498.56M693.12 494.71H695.56M693.12 496.63H695.56M694.34 493.74V498.56M692.31 498.56H695.97M697.25 493.42H698.47M697.25 495.35H698.47M697.86 492.46V498.56M699.08 492.46H701.31V495.35H699.08ZM698.96 496.96H701.31M698.96 498.56H701.31M700.18 495.35V498.56M706.66 492.78H702.6M706.46 492.78V498.56M705.44 494.71H703M705.44 496.63H703M704.22 493.74V498.56M706.25 498.56H702.6" stroke="#ececec" stroke-width="1.1" fill="none"/>
<path d="M583.74 503.64H579.65V510.06H583.74ZM583.74 506.85H579.65M581.69 504.6V509.1M588.64 503.64V510.06M589.13 505.89H587.9M589.13 508.13H587.9M587.49 504.28H585.04M586.27 504.28V510.06M587.29 506.53H585.04M587.29 508.78H585.04M590.43 503.64H594.52V510.06H590.43ZM590.43 506.85H594.52M592.47 504.6V509.1M595.82 504.15H599.91M597.86 503.64V506.21M596.43 506.21H599.3V510.06H596.43ZM596.43 508.13H599.3M604.81 503.64V510.06M605.3 505.89H604.07M605.3 508.13H604.07M603.66 504.28H601.21M602.43 504.28V510.06M603.46 506.53H601.21M603.46 508.78H601.21M610.69 504.28H606.6M610.49 504.28V510.06M609.46 506.21H607M609.46 508.13H607M608.23 505.24V510.06M610.28 510.06H606.6M612.48 503.64V510.06M611.98 505.89H613.21M611.98 508.13H613.21M613.62 504.28H616.08M614.85 504.28V510.06M613.83 506.53H616.08M613.83 508.78H616.08M617.37 503.64H621.47V510.06H617.37ZM617.37 506.85H621.47M619.42 504.6V509.1M622.76 504.15H626.86M624.81 503.64V506.21M623.38 506.21H626.25V510.06H623.38ZM623.38 508.13H626.25M628.15 505.57H632.25M630.41 503.64L628.36 510.06M630.2 505.89L632.25 510.06M628.97 507.81H631.43M637.15 503.64V510.06M637.64 505.89H636.41M637.64 508.13H636.41M636 504.28H633.54M634.77 504.28V510.06M635.8 506.53H633.54M635.8 508.78H633.54M643.03 504.28H638.93M642.82 504.28V510.06M641.8 506.21H639.34M641.8 508.13H639.34M640.57 505.24V510.06M642.62 510.06H638.93M644.73 504.92H648.01M646.37 503.64V510.06M646.17 506.53L644.32 509.42M646.58 506.53L648.42 509.42M644.32 507.17H648.42M649.71 505.57H653.81M651.97 503.64L649.92 510.06M651.76 505.89L653.81 510.06M650.53 507.81H652.99M655.1 504.15H659.2M657.15 503.64V506.21M655.72 506.21H658.58V510.06H655.72ZM655.72 508.13H658.58M664.59 505.57H660.49M662.33 503.64L664.38 510.06M662.54 505.89L660.49 510.06M663.77 507.81H661.31M669.57 504.6H666.29M669.98 506.34H665.88M668.75 504.6V506.34M667.11 504.6V506.34M669.57 507.49H666.29V510.06H669.57ZM671.27 504.92H672.5M671.27 506.85H672.5M671.89 503.96V510.06M673.11 503.96H675.37V506.85H673.11ZM672.99 508.46H675.37M672.99 510.06H675.37M674.22 506.85V510.06M676.66 504.92H677.89M676.66 506.85H677.89M677.27 503.96V510.06M678.5 503.96H680.76V506.85H678.5ZM678.38 508.46H680.76M678.38 510.06H680.76M679.61 506.85V510.06M686.15 504.28H682.05M685.94 504.28V510.06M684.92 506.21H682.46M684.92 508.13H682.46M683.69 505.24V510.06M685.74 510.06H682.05M687.93 503.64V510.06M687.44 505.89H688.67M687.44 508.13H688.67M689.08 504.28H691.54M690.31 504.28V510.06M689.28 506.53H691.54M689.28 508.78H691.54M696.93 504.92H695.7M696.93 506.85H695.7M696.31 503.96V510.06M695.08 503.96H692.83V506.85H695.08ZM695.21 508.46H692.83M695.21 510.06H692.83M693.98 506.85V510.06M698.71 503.64V510.06M698.22 505.89H699.45M698.22 508.13H699.45M699.86 504.28H702.32M701.09 504.28V510.06M700.06 506.53H702.32M700.06 508.78H702.32M704.1 503.64V510.06M703.61 505.89H704.84M703.61 508.13H704.84M705.25 504.28H707.7M706.48 504.28V510.06M705.45 506.53H707.7M705.45 508.78H707.7M709 504.28H713.09M709.2 504.28V510.06M710.23 506.21H712.69M710.23 508.13H712.69M711.46 505.24V510.06M709.41 510.06H713.09M718.48 504.28H714.39M718.28 504.28V510.06M717.26 506.21H714.8M717.26 508.13H714.8M716.03 505.24V510.06M718.07 510.06H714.39M723.87 505.57H719.78M721.62 503.64L723.67 510.06M721.83 505.89L719.78 510.06M723.05 507.81H720.6M725.58 504.6H728.85M725.17 506.34H729.26M726.4 504.6V506.34M728.03 504.6V506.34M725.58 507.49H728.85V510.06H725.58ZM734.24 504.6H730.97M734.65 506.34H730.56M733.42 504.6V506.34M731.79 504.6V506.34M734.24 507.49H730.97V510.06H734.24Z" stroke="#ececec" stroke-width="1.1" fill="none"/>
<path d="M338.6 281 Q344 275 352 273.6 Q357 273.2 360.5 273.6 Q350 275.6 341.2 281.6 Z" fill="#a9a9a9"/>
<path d="M335.8 295.4 Q338 306 345 310.6 Q352 313.6 360 311.6 Q368.5 308.6 373.4 294 Q369 303.5 362 307.2 Q353 310.4 346 306.6 Q340 303 337.4 297.6 Z" fill="#a9a9a9"/>
<path d="M329.5 300.6 L335 282.6 L342.9 282.2 L346 290.6 L354.3 282.2 L378.2 282.2 L377.1 285.3 L362.9 285.3 L362 290.3 L376.9 290.3 L375.9 293.6 L361.2 293.6 L357.8 301 L351.9 301 L355.1 288.9 L345.6 297.1 L340.9 289.6 L335.8 300.6 Z" fill="#a9a9a9"/>
<path d="M384.4 273.4 L388.2 278.2" stroke="#a9a9a9" fill="none" stroke-linecap="butt" stroke-width="3.1"/>
<path d="M381.4 281 L385.6 285" stroke="#a9a9a9" fill="none" stroke-linecap="butt" stroke-width="3.3"/>
<path d="M379.6 297.8 L387.8 286.6" stroke="#a9a9a9" fill="none" stroke-linecap="butt" stroke-width="3.5"/>
<path d="M389.5 277.9 H410.3" stroke="#a9a9a9" fill="none" stroke-linecap="butt" stroke-width="3.4"/>
<path d="M397.9 273 L395.1 298.7" stroke="#a9a9a9" fill="none" stroke-linecap="butt" stroke-width="3.8"/>
<path d="M394.2 281.5 Q392 289 388.4 294.4" stroke="#a9a9a9" fill="none" stroke-linecap="butt" stroke-width="3.3"/>
<path d="M401 280.6 Q405.5 285 407.8 294.4" stroke="#a9a9a9" fill="none" stroke-linecap="butt" stroke-width="3.3"/>
<path d="M426.6 273.6 Q426 289 418.4 298" stroke="#a9a9a9" fill="none" stroke-linecap="butt" stroke-width="3.8"/>
<path d="M425 274.7 H447.4" stroke="#a9a9a9" fill="none" stroke-linecap="butt" stroke-width="3.3"/>
<path d="M446.4 273.6 Q444.6 284 444.8 293 Q445 297.4 448.4 298" stroke="#a9a9a9" fill="none" stroke-linecap="butt" stroke-width="3.8"/>
<path d="M430.2 280.6 L441 296 M439.4 280.6 L431 294.4" stroke="#a9a9a9" fill="none" stroke-linecap="butt" stroke-width="3.1"/>
<path d="M462.2 273.9 L458 298.7" stroke="#a9a9a9" fill="none" stroke-linecap="butt" stroke-width="4.0"/>
<path d="M461 275.1 H486.6" stroke="#a9a9a9" fill="none" stroke-linecap="butt" stroke-width="3.2"/>
<path d="M485.6 274.2 L482.4 296.6 Q481.6 298.6 475.8 298.7" stroke="#a9a9a9" fill="none" stroke-linecap="butt" stroke-width="4.0"/>
<path d="M465.6 277.5 L470 290.6 M470.7 277.5 L464.9 290.6 M476.6 277.5 L481 290.6 M480.2 277.5 L475.1 290.6" stroke="#a9a9a9" fill="none" stroke-linecap="butt" stroke-width="2.8"/>
<text x="379.2" y="309.6" font-family="Liberation Sans" font-size="12.6" fill="#a9a9a9" stroke="#a9a9a9" stroke-width="0.6" textLength="109" lengthAdjust="spacing">www.mfcad.com</text>
<rect x="359" y="298.3" width="14.3" height="6.2" fill="#000"/>
<rect x="359.5" y="298.8" width="13.3" height="5.2" stroke="#00c8d2" stroke-width="1.1" fill="none"/>
<path d="M361.41 300.59H364.02M362.72 300.43V301.21M361.8 301.21H363.63V302.37H361.8ZM361.8 301.79H363.63M365.11 300.82H367.19M366.15 300.43V302.37M366.02 301.3L364.85 302.17M366.28 301.3L367.45 302.17M364.85 301.5H367.45M368.59 300.43V302.37M368.28 301.11H369.06M368.28 301.79H369.06M369.32 300.63H370.89M370.11 300.63V302.37M369.45 301.3H370.89M369.45 301.98H370.89" stroke="#00ecf0" stroke-width="1.3" fill="none"/>
</svg></body></html>
